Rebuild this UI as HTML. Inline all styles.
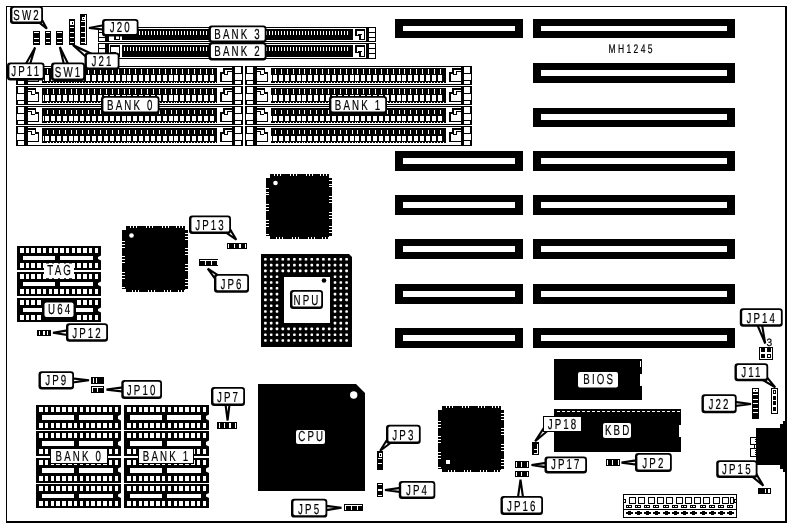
<!DOCTYPE html>
<html><head><meta charset="utf-8"><title>MH1245</title>
<style>
html,body{margin:0;padding:0;background:#fff;}
svg{display:block;font-family:"Liberation Sans",sans-serif;shape-rendering:crispEdges;}
svg .aa{shape-rendering:geometricPrecision;}
svg text{text-rendering:geometricPrecision;}
svg{will-change:transform;}
</style></head>
<body>
<svg width="791" height="527" viewBox="0 0 791 527">
<rect x="0" y="0" width="791" height="527" fill="#fff"/>

<rect x="6" y="6" width="781" height="1" fill="#000" />
<rect x="6" y="6" width="1" height="516" fill="#000" />
<rect x="785" y="6" width="2" height="517" fill="#000" />
<rect x="6" y="521" width="781" height="2" fill="#000" />
<rect x="533" y="19" width="202" height="19" fill="#000" />
<rect x="541" y="26" width="186" height="5" fill="#fff" />
<rect x="395" y="19" width="128" height="19" fill="#000" />
<rect x="403" y="26" width="112" height="5" fill="#fff" />
<rect x="533" y="63" width="202" height="20" fill="#000" />
<rect x="541" y="70" width="186" height="6" fill="#fff" />
<rect x="533" y="108" width="202" height="19" fill="#000" />
<rect x="541" y="114" width="186" height="6" fill="#fff" />
<rect x="533" y="151" width="202" height="20" fill="#000" />
<rect x="541" y="158" width="186" height="6" fill="#fff" />
<rect x="395" y="151" width="128" height="20" fill="#000" />
<rect x="403" y="158" width="112" height="6" fill="#fff" />
<rect x="533" y="195" width="202" height="20" fill="#000" />
<rect x="541" y="202" width="186" height="6" fill="#fff" />
<rect x="395" y="195" width="128" height="20" fill="#000" />
<rect x="403" y="202" width="112" height="6" fill="#fff" />
<rect x="533" y="239" width="202" height="20" fill="#000" />
<rect x="541" y="246" width="186" height="6" fill="#fff" />
<rect x="395" y="239" width="128" height="20" fill="#000" />
<rect x="403" y="246" width="112" height="6" fill="#fff" />
<rect x="533" y="284" width="202" height="20" fill="#000" />
<rect x="541" y="291" width="186" height="6" fill="#fff" />
<rect x="395" y="284" width="128" height="20" fill="#000" />
<rect x="403" y="291" width="112" height="6" fill="#fff" />
<rect x="533" y="328" width="202" height="20" fill="#000" />
<rect x="541" y="335" width="186" height="6" fill="#fff" />
<rect x="395" y="328" width="128" height="20" fill="#000" />
<rect x="403" y="335" width="112" height="6" fill="#fff" />
<rect x="16.5" y="66.5" width="226" height="18" fill="#fff" stroke="#000" stroke-width="1"/>
<rect x="17.5" y="66.5" width="7" height="7" fill="#fff" stroke="#000" stroke-width="1"/>
<rect x="16.5" y="73.5" width="8" height="7" fill="#fff" stroke="#000" stroke-width="1"/>
<rect x="17.5" y="80.5" width="7" height="4" fill="#fff" stroke="#000" stroke-width="1"/>
<rect x="24" y="66" width="3.5" height="19" fill="#000" />
<path d="M27 68 H36 V72 H39 V82 H27 Z" fill="#000" />
<path d="M27.5 69.5 H34.5 V73.5 H37.5 V80.8 H27.5 Z" fill="#fff" />
<rect x="27.5" y="71" width="4.5" height="1" fill="#000" />
<rect x="31" y="71" width="1" height="3.5" fill="#000" />
<rect x="31" y="73.5" width="4" height="1.2" fill="#000" />
<rect x="42" y="68" width="174.5" height="15" fill="#000" />
<rect x="43" y="75" width="1" height="6" fill="#fff" />
<rect x="45" y="75" width="4" height="6" fill="#fff" />
<rect x="46.5" y="69" width="1" height="5" fill="#fff" />
<rect x="49.5" y="82" width="1" height="1" fill="#fff" />
<rect x="46.5" y="82" width="1" height="1" fill="#fff" />
<rect x="51" y="75" width="4" height="6" fill="#fff" />
<rect x="52.5" y="69" width="1" height="5" fill="#fff" />
<rect x="55.5" y="82" width="1" height="1" fill="#fff" />
<rect x="52.5" y="82" width="1" height="1" fill="#fff" />
<rect x="57" y="75" width="4" height="6" fill="#fff" />
<rect x="58.5" y="69" width="1" height="5" fill="#fff" />
<rect x="61.5" y="82" width="1" height="1" fill="#fff" />
<rect x="58.5" y="82" width="1" height="1" fill="#fff" />
<rect x="63" y="75" width="4" height="6" fill="#fff" />
<rect x="64.5" y="69" width="1" height="5" fill="#fff" />
<rect x="67.5" y="82" width="1" height="1" fill="#fff" />
<rect x="64.5" y="82" width="1" height="1" fill="#fff" />
<rect x="69" y="75" width="4" height="6" fill="#fff" />
<rect x="70.5" y="69" width="1" height="5" fill="#fff" />
<rect x="73.5" y="82" width="1" height="1" fill="#fff" />
<rect x="70.5" y="82" width="1" height="1" fill="#fff" />
<rect x="74" y="75" width="4" height="6" fill="#fff" />
<rect x="75.5" y="69" width="1" height="5" fill="#fff" />
<rect x="78.5" y="82" width="1" height="1" fill="#fff" />
<rect x="75.5" y="82" width="1" height="1" fill="#fff" />
<rect x="80" y="75" width="4" height="6" fill="#fff" />
<rect x="81.5" y="69" width="1" height="5" fill="#fff" />
<rect x="84.5" y="82" width="1" height="1" fill="#fff" />
<rect x="81.5" y="82" width="1" height="1" fill="#fff" />
<rect x="86" y="75" width="4" height="6" fill="#fff" />
<rect x="87.5" y="69" width="1" height="5" fill="#fff" />
<rect x="90.5" y="82" width="1" height="1" fill="#fff" />
<rect x="87.5" y="82" width="1" height="1" fill="#fff" />
<rect x="92" y="75" width="4" height="6" fill="#fff" />
<rect x="93.5" y="69" width="1" height="5" fill="#fff" />
<rect x="96.5" y="82" width="1" height="1" fill="#fff" />
<rect x="93.5" y="82" width="1" height="1" fill="#fff" />
<rect x="98" y="75" width="4" height="6" fill="#fff" />
<rect x="99.5" y="69" width="1" height="5" fill="#fff" />
<rect x="102.5" y="82" width="1" height="1" fill="#fff" />
<rect x="99.5" y="82" width="1" height="1" fill="#fff" />
<rect x="104" y="75" width="4" height="6" fill="#fff" />
<rect x="105.5" y="69" width="1" height="5" fill="#fff" />
<rect x="108.5" y="82" width="1" height="1" fill="#fff" />
<rect x="105.5" y="82" width="1" height="1" fill="#fff" />
<rect x="110" y="75" width="4" height="6" fill="#fff" />
<rect x="111.5" y="69" width="1" height="5" fill="#fff" />
<rect x="114.5" y="82" width="1" height="1" fill="#fff" />
<rect x="111.5" y="82" width="1" height="1" fill="#fff" />
<rect x="116" y="75" width="4" height="6" fill="#fff" />
<rect x="117.5" y="69" width="1" height="5" fill="#fff" />
<rect x="120.5" y="82" width="1" height="1" fill="#fff" />
<rect x="117.5" y="82" width="1" height="1" fill="#fff" />
<rect x="122" y="75" width="4" height="6" fill="#fff" />
<rect x="123.5" y="69" width="1" height="5" fill="#fff" />
<rect x="126.5" y="82" width="1" height="1" fill="#fff" />
<rect x="123.5" y="82" width="1" height="1" fill="#fff" />
<rect x="127" y="75" width="4" height="6" fill="#fff" />
<rect x="128.5" y="69" width="1" height="5" fill="#fff" />
<rect x="131.5" y="82" width="1" height="1" fill="#fff" />
<rect x="128.5" y="82" width="1" height="1" fill="#fff" />
<rect x="133" y="75" width="4" height="6" fill="#fff" />
<rect x="134.5" y="69" width="1" height="5" fill="#fff" />
<rect x="137.5" y="82" width="1" height="1" fill="#fff" />
<rect x="134.5" y="82" width="1" height="1" fill="#fff" />
<rect x="139" y="75" width="4" height="6" fill="#fff" />
<rect x="140.5" y="69" width="1" height="5" fill="#fff" />
<rect x="143.5" y="82" width="1" height="1" fill="#fff" />
<rect x="140.5" y="82" width="1" height="1" fill="#fff" />
<rect x="145" y="75" width="4" height="6" fill="#fff" />
<rect x="146.5" y="69" width="1" height="5" fill="#fff" />
<rect x="149.5" y="82" width="1" height="1" fill="#fff" />
<rect x="146.5" y="82" width="1" height="1" fill="#fff" />
<rect x="151" y="75" width="4" height="6" fill="#fff" />
<rect x="152.5" y="69" width="1" height="5" fill="#fff" />
<rect x="155.5" y="82" width="1" height="1" fill="#fff" />
<rect x="152.5" y="82" width="1" height="1" fill="#fff" />
<rect x="157" y="75" width="4" height="6" fill="#fff" />
<rect x="158.5" y="69" width="1" height="5" fill="#fff" />
<rect x="161.5" y="82" width="1" height="1" fill="#fff" />
<rect x="158.5" y="82" width="1" height="1" fill="#fff" />
<rect x="163" y="75" width="4" height="6" fill="#fff" />
<rect x="164.5" y="69" width="1" height="5" fill="#fff" />
<rect x="167.5" y="82" width="1" height="1" fill="#fff" />
<rect x="164.5" y="82" width="1" height="1" fill="#fff" />
<rect x="169" y="75" width="4" height="6" fill="#fff" />
<rect x="170.5" y="69" width="1" height="5" fill="#fff" />
<rect x="173.5" y="82" width="1" height="1" fill="#fff" />
<rect x="170.5" y="82" width="1" height="1" fill="#fff" />
<rect x="174" y="75" width="4" height="6" fill="#fff" />
<rect x="175.5" y="69" width="1" height="5" fill="#fff" />
<rect x="178.5" y="82" width="1" height="1" fill="#fff" />
<rect x="175.5" y="82" width="1" height="1" fill="#fff" />
<rect x="180" y="75" width="4" height="6" fill="#fff" />
<rect x="181.5" y="69" width="1" height="5" fill="#fff" />
<rect x="184.5" y="82" width="1" height="1" fill="#fff" />
<rect x="181.5" y="82" width="1" height="1" fill="#fff" />
<rect x="186" y="75" width="4" height="6" fill="#fff" />
<rect x="187.5" y="69" width="1" height="5" fill="#fff" />
<rect x="190.5" y="82" width="1" height="1" fill="#fff" />
<rect x="187.5" y="82" width="1" height="1" fill="#fff" />
<rect x="192" y="75" width="4" height="6" fill="#fff" />
<rect x="193.5" y="69" width="1" height="5" fill="#fff" />
<rect x="196.5" y="82" width="1" height="1" fill="#fff" />
<rect x="193.5" y="82" width="1" height="1" fill="#fff" />
<rect x="198" y="75" width="4" height="6" fill="#fff" />
<rect x="199.5" y="69" width="1" height="5" fill="#fff" />
<rect x="202.5" y="82" width="1" height="1" fill="#fff" />
<rect x="199.5" y="82" width="1" height="1" fill="#fff" />
<rect x="204" y="75" width="4" height="6" fill="#fff" />
<rect x="205.5" y="69" width="1" height="5" fill="#fff" />
<rect x="208.5" y="82" width="1" height="1" fill="#fff" />
<rect x="205.5" y="82" width="1" height="1" fill="#fff" />
<rect x="210" y="75" width="4" height="6" fill="#fff" />
<rect x="211.5" y="69" width="1" height="5" fill="#fff" />
<rect x="214.5" y="82" width="1" height="1" fill="#fff" />
<rect x="211.5" y="82" width="1" height="1" fill="#fff" />
<path d="M232 68 H223 V72 H220 V82 H232 Z" fill="#000" />
<path d="M231.5 69.5 H224.5 V73.5 H221.5 V80.8 H231.5 Z" fill="#fff" />
<rect x="227" y="71" width="4.5" height="1" fill="#000" />
<rect x="227" y="71" width="1" height="3.5" fill="#000" />
<rect x="224" y="73.5" width="4" height="1.2" fill="#000" />
<rect x="231.5" y="66" width="3.5" height="19" fill="#000" />
<rect x="234.5" y="66.5" width="7" height="7" fill="#fff" stroke="#000" stroke-width="1"/>
<rect x="234.5" y="73.5" width="8" height="7" fill="#fff" stroke="#000" stroke-width="1"/>
<rect x="234.5" y="80.5" width="7" height="4" fill="#fff" stroke="#000" stroke-width="1"/>
<rect x="245.5" y="66.5" width="226" height="18" fill="#fff" stroke="#000" stroke-width="1"/>
<rect x="246.5" y="66.5" width="7" height="7" fill="#fff" stroke="#000" stroke-width="1"/>
<rect x="245.5" y="73.5" width="8" height="7" fill="#fff" stroke="#000" stroke-width="1"/>
<rect x="246.5" y="80.5" width="7" height="4" fill="#fff" stroke="#000" stroke-width="1"/>
<rect x="253" y="66" width="3.5" height="19" fill="#000" />
<path d="M256 68 H265 V72 H268 V82 H256 Z" fill="#000" />
<path d="M256.5 69.5 H263.5 V73.5 H266.5 V80.8 H256.5 Z" fill="#fff" />
<rect x="256.5" y="71" width="4.5" height="1" fill="#000" />
<rect x="260" y="71" width="1" height="3.5" fill="#000" />
<rect x="260" y="73.5" width="4" height="1.2" fill="#000" />
<rect x="271" y="68" width="174.5" height="15" fill="#000" />
<rect x="271" y="75" width="1" height="6" fill="#fff" />
<rect x="273" y="75" width="4" height="6" fill="#fff" />
<rect x="274.5" y="69" width="1" height="5" fill="#fff" />
<rect x="277.5" y="82" width="1" height="1" fill="#fff" />
<rect x="274.5" y="82" width="1" height="1" fill="#fff" />
<rect x="279" y="75" width="4" height="6" fill="#fff" />
<rect x="280.5" y="69" width="1" height="5" fill="#fff" />
<rect x="283.5" y="82" width="1" height="1" fill="#fff" />
<rect x="280.5" y="82" width="1" height="1" fill="#fff" />
<rect x="285" y="75" width="4" height="6" fill="#fff" />
<rect x="286.5" y="69" width="1" height="5" fill="#fff" />
<rect x="289.5" y="82" width="1" height="1" fill="#fff" />
<rect x="286.5" y="82" width="1" height="1" fill="#fff" />
<rect x="291" y="75" width="4" height="6" fill="#fff" />
<rect x="292.5" y="69" width="1" height="5" fill="#fff" />
<rect x="295.5" y="82" width="1" height="1" fill="#fff" />
<rect x="292.5" y="82" width="1" height="1" fill="#fff" />
<rect x="297" y="75" width="4" height="6" fill="#fff" />
<rect x="298.5" y="69" width="1" height="5" fill="#fff" />
<rect x="301.5" y="82" width="1" height="1" fill="#fff" />
<rect x="298.5" y="82" width="1" height="1" fill="#fff" />
<rect x="302" y="75" width="4" height="6" fill="#fff" />
<rect x="303.5" y="69" width="1" height="5" fill="#fff" />
<rect x="306.5" y="82" width="1" height="1" fill="#fff" />
<rect x="303.5" y="82" width="1" height="1" fill="#fff" />
<rect x="308" y="75" width="4" height="6" fill="#fff" />
<rect x="309.5" y="69" width="1" height="5" fill="#fff" />
<rect x="312.5" y="82" width="1" height="1" fill="#fff" />
<rect x="309.5" y="82" width="1" height="1" fill="#fff" />
<rect x="314" y="75" width="4" height="6" fill="#fff" />
<rect x="315.5" y="69" width="1" height="5" fill="#fff" />
<rect x="318.5" y="82" width="1" height="1" fill="#fff" />
<rect x="315.5" y="82" width="1" height="1" fill="#fff" />
<rect x="320" y="75" width="4" height="6" fill="#fff" />
<rect x="321.5" y="69" width="1" height="5" fill="#fff" />
<rect x="324.5" y="82" width="1" height="1" fill="#fff" />
<rect x="321.5" y="82" width="1" height="1" fill="#fff" />
<rect x="326" y="75" width="4" height="6" fill="#fff" />
<rect x="327.5" y="69" width="1" height="5" fill="#fff" />
<rect x="330.5" y="82" width="1" height="1" fill="#fff" />
<rect x="327.5" y="82" width="1" height="1" fill="#fff" />
<rect x="332" y="75" width="4" height="6" fill="#fff" />
<rect x="333.5" y="69" width="1" height="5" fill="#fff" />
<rect x="336.5" y="82" width="1" height="1" fill="#fff" />
<rect x="333.5" y="82" width="1" height="1" fill="#fff" />
<rect x="338" y="75" width="4" height="6" fill="#fff" />
<rect x="339.5" y="69" width="1" height="5" fill="#fff" />
<rect x="342.5" y="82" width="1" height="1" fill="#fff" />
<rect x="339.5" y="82" width="1" height="1" fill="#fff" />
<rect x="344" y="75" width="4" height="6" fill="#fff" />
<rect x="345.5" y="69" width="1" height="5" fill="#fff" />
<rect x="348.5" y="82" width="1" height="1" fill="#fff" />
<rect x="345.5" y="82" width="1" height="1" fill="#fff" />
<rect x="350" y="75" width="4" height="6" fill="#fff" />
<rect x="351.5" y="69" width="1" height="5" fill="#fff" />
<rect x="354.5" y="82" width="1" height="1" fill="#fff" />
<rect x="351.5" y="82" width="1" height="1" fill="#fff" />
<rect x="355" y="75" width="4" height="6" fill="#fff" />
<rect x="356.5" y="69" width="1" height="5" fill="#fff" />
<rect x="359.5" y="82" width="1" height="1" fill="#fff" />
<rect x="356.5" y="82" width="1" height="1" fill="#fff" />
<rect x="361" y="75" width="4" height="6" fill="#fff" />
<rect x="362.5" y="69" width="1" height="5" fill="#fff" />
<rect x="365.5" y="82" width="1" height="1" fill="#fff" />
<rect x="362.5" y="82" width="1" height="1" fill="#fff" />
<rect x="367" y="75" width="4" height="6" fill="#fff" />
<rect x="368.5" y="69" width="1" height="5" fill="#fff" />
<rect x="371.5" y="82" width="1" height="1" fill="#fff" />
<rect x="368.5" y="82" width="1" height="1" fill="#fff" />
<rect x="373" y="75" width="4" height="6" fill="#fff" />
<rect x="374.5" y="69" width="1" height="5" fill="#fff" />
<rect x="377.5" y="82" width="1" height="1" fill="#fff" />
<rect x="374.5" y="82" width="1" height="1" fill="#fff" />
<rect x="379" y="75" width="4" height="6" fill="#fff" />
<rect x="380.5" y="69" width="1" height="5" fill="#fff" />
<rect x="383.5" y="82" width="1" height="1" fill="#fff" />
<rect x="380.5" y="82" width="1" height="1" fill="#fff" />
<rect x="385" y="75" width="4" height="6" fill="#fff" />
<rect x="386.5" y="69" width="1" height="5" fill="#fff" />
<rect x="389.5" y="82" width="1" height="1" fill="#fff" />
<rect x="386.5" y="82" width="1" height="1" fill="#fff" />
<rect x="391" y="75" width="4" height="6" fill="#fff" />
<rect x="392.5" y="69" width="1" height="5" fill="#fff" />
<rect x="395.5" y="82" width="1" height="1" fill="#fff" />
<rect x="392.5" y="82" width="1" height="1" fill="#fff" />
<rect x="397" y="75" width="4" height="6" fill="#fff" />
<rect x="398.5" y="69" width="1" height="5" fill="#fff" />
<rect x="401.5" y="82" width="1" height="1" fill="#fff" />
<rect x="398.5" y="82" width="1" height="1" fill="#fff" />
<rect x="402" y="75" width="4" height="6" fill="#fff" />
<rect x="403.5" y="69" width="1" height="5" fill="#fff" />
<rect x="406.5" y="82" width="1" height="1" fill="#fff" />
<rect x="403.5" y="82" width="1" height="1" fill="#fff" />
<rect x="408" y="75" width="4" height="6" fill="#fff" />
<rect x="409.5" y="69" width="1" height="5" fill="#fff" />
<rect x="412.5" y="82" width="1" height="1" fill="#fff" />
<rect x="409.5" y="82" width="1" height="1" fill="#fff" />
<rect x="414" y="75" width="4" height="6" fill="#fff" />
<rect x="415.5" y="69" width="1" height="5" fill="#fff" />
<rect x="418.5" y="82" width="1" height="1" fill="#fff" />
<rect x="415.5" y="82" width="1" height="1" fill="#fff" />
<rect x="420" y="75" width="4" height="6" fill="#fff" />
<rect x="421.5" y="69" width="1" height="5" fill="#fff" />
<rect x="424.5" y="82" width="1" height="1" fill="#fff" />
<rect x="421.5" y="82" width="1" height="1" fill="#fff" />
<rect x="426" y="75" width="4" height="6" fill="#fff" />
<rect x="427.5" y="69" width="1" height="5" fill="#fff" />
<rect x="430.5" y="82" width="1" height="1" fill="#fff" />
<rect x="427.5" y="82" width="1" height="1" fill="#fff" />
<rect x="432" y="75" width="4" height="6" fill="#fff" />
<rect x="433.5" y="69" width="1" height="5" fill="#fff" />
<rect x="436.5" y="82" width="1" height="1" fill="#fff" />
<rect x="433.5" y="82" width="1" height="1" fill="#fff" />
<rect x="438" y="75" width="4" height="6" fill="#fff" />
<rect x="439.5" y="69" width="1" height="5" fill="#fff" />
<rect x="442.5" y="82" width="1" height="1" fill="#fff" />
<rect x="439.5" y="82" width="1" height="1" fill="#fff" />
<path d="M461 68 H452 V72 H449 V82 H461 Z" fill="#000" />
<path d="M460.5 69.5 H453.5 V73.5 H450.5 V80.8 H460.5 Z" fill="#fff" />
<rect x="456" y="71" width="4.5" height="1" fill="#000" />
<rect x="456" y="71" width="1" height="3.5" fill="#000" />
<rect x="453" y="73.5" width="4" height="1.2" fill="#000" />
<rect x="460.5" y="66" width="3.5" height="19" fill="#000" />
<rect x="463.5" y="66.5" width="7" height="7" fill="#fff" stroke="#000" stroke-width="1"/>
<rect x="463.5" y="73.5" width="8" height="7" fill="#fff" stroke="#000" stroke-width="1"/>
<rect x="463.5" y="80.5" width="7" height="4" fill="#fff" stroke="#000" stroke-width="1"/>
<rect x="16.5" y="86.5" width="226" height="18" fill="#fff" stroke="#000" stroke-width="1"/>
<rect x="17.5" y="86.5" width="7" height="7" fill="#fff" stroke="#000" stroke-width="1"/>
<rect x="16.5" y="93.5" width="8" height="7" fill="#fff" stroke="#000" stroke-width="1"/>
<rect x="17.5" y="100.5" width="7" height="4" fill="#fff" stroke="#000" stroke-width="1"/>
<rect x="24" y="86" width="3.5" height="19" fill="#000" />
<path d="M27 88 H36 V92 H39 V102 H27 Z" fill="#000" />
<path d="M27.5 89.5 H34.5 V93.5 H37.5 V100.8 H27.5 Z" fill="#fff" />
<rect x="27.5" y="91" width="4.5" height="1" fill="#000" />
<rect x="31" y="91" width="1" height="3.5" fill="#000" />
<rect x="31" y="93.5" width="4" height="1.2" fill="#000" />
<rect x="42" y="88" width="174.5" height="15" fill="#000" />
<rect x="43" y="95" width="1" height="6" fill="#fff" />
<rect x="45" y="95" width="4" height="6" fill="#fff" />
<rect x="46.5" y="89" width="1" height="5" fill="#fff" />
<rect x="49.5" y="102" width="1" height="1" fill="#fff" />
<rect x="46.5" y="102" width="1" height="1" fill="#fff" />
<rect x="51" y="95" width="4" height="6" fill="#fff" />
<rect x="52.5" y="89" width="1" height="5" fill="#fff" />
<rect x="55.5" y="102" width="1" height="1" fill="#fff" />
<rect x="52.5" y="102" width="1" height="1" fill="#fff" />
<rect x="57" y="95" width="4" height="6" fill="#fff" />
<rect x="58.5" y="89" width="1" height="5" fill="#fff" />
<rect x="61.5" y="102" width="1" height="1" fill="#fff" />
<rect x="58.5" y="102" width="1" height="1" fill="#fff" />
<rect x="63" y="95" width="4" height="6" fill="#fff" />
<rect x="64.5" y="89" width="1" height="5" fill="#fff" />
<rect x="67.5" y="102" width="1" height="1" fill="#fff" />
<rect x="64.5" y="102" width="1" height="1" fill="#fff" />
<rect x="69" y="95" width="4" height="6" fill="#fff" />
<rect x="70.5" y="89" width="1" height="5" fill="#fff" />
<rect x="73.5" y="102" width="1" height="1" fill="#fff" />
<rect x="70.5" y="102" width="1" height="1" fill="#fff" />
<rect x="74" y="95" width="4" height="6" fill="#fff" />
<rect x="75.5" y="89" width="1" height="5" fill="#fff" />
<rect x="78.5" y="102" width="1" height="1" fill="#fff" />
<rect x="75.5" y="102" width="1" height="1" fill="#fff" />
<rect x="80" y="95" width="4" height="6" fill="#fff" />
<rect x="81.5" y="89" width="1" height="5" fill="#fff" />
<rect x="84.5" y="102" width="1" height="1" fill="#fff" />
<rect x="81.5" y="102" width="1" height="1" fill="#fff" />
<rect x="86" y="95" width="4" height="6" fill="#fff" />
<rect x="87.5" y="89" width="1" height="5" fill="#fff" />
<rect x="90.5" y="102" width="1" height="1" fill="#fff" />
<rect x="87.5" y="102" width="1" height="1" fill="#fff" />
<rect x="92" y="95" width="4" height="6" fill="#fff" />
<rect x="93.5" y="89" width="1" height="5" fill="#fff" />
<rect x="96.5" y="102" width="1" height="1" fill="#fff" />
<rect x="93.5" y="102" width="1" height="1" fill="#fff" />
<rect x="98" y="95" width="4" height="6" fill="#fff" />
<rect x="99.5" y="89" width="1" height="5" fill="#fff" />
<rect x="102.5" y="102" width="1" height="1" fill="#fff" />
<rect x="99.5" y="102" width="1" height="1" fill="#fff" />
<rect x="104" y="95" width="4" height="6" fill="#fff" />
<rect x="105.5" y="89" width="1" height="5" fill="#fff" />
<rect x="108.5" y="102" width="1" height="1" fill="#fff" />
<rect x="105.5" y="102" width="1" height="1" fill="#fff" />
<rect x="110" y="95" width="4" height="6" fill="#fff" />
<rect x="111.5" y="89" width="1" height="5" fill="#fff" />
<rect x="114.5" y="102" width="1" height="1" fill="#fff" />
<rect x="111.5" y="102" width="1" height="1" fill="#fff" />
<rect x="116" y="95" width="4" height="6" fill="#fff" />
<rect x="117.5" y="89" width="1" height="5" fill="#fff" />
<rect x="120.5" y="102" width="1" height="1" fill="#fff" />
<rect x="117.5" y="102" width="1" height="1" fill="#fff" />
<rect x="122" y="95" width="4" height="6" fill="#fff" />
<rect x="123.5" y="89" width="1" height="5" fill="#fff" />
<rect x="126.5" y="102" width="1" height="1" fill="#fff" />
<rect x="123.5" y="102" width="1" height="1" fill="#fff" />
<rect x="127" y="95" width="4" height="6" fill="#fff" />
<rect x="128.5" y="89" width="1" height="5" fill="#fff" />
<rect x="131.5" y="102" width="1" height="1" fill="#fff" />
<rect x="128.5" y="102" width="1" height="1" fill="#fff" />
<rect x="133" y="95" width="4" height="6" fill="#fff" />
<rect x="134.5" y="89" width="1" height="5" fill="#fff" />
<rect x="137.5" y="102" width="1" height="1" fill="#fff" />
<rect x="134.5" y="102" width="1" height="1" fill="#fff" />
<rect x="139" y="95" width="4" height="6" fill="#fff" />
<rect x="140.5" y="89" width="1" height="5" fill="#fff" />
<rect x="143.5" y="102" width="1" height="1" fill="#fff" />
<rect x="140.5" y="102" width="1" height="1" fill="#fff" />
<rect x="145" y="95" width="4" height="6" fill="#fff" />
<rect x="146.5" y="89" width="1" height="5" fill="#fff" />
<rect x="149.5" y="102" width="1" height="1" fill="#fff" />
<rect x="146.5" y="102" width="1" height="1" fill="#fff" />
<rect x="151" y="95" width="4" height="6" fill="#fff" />
<rect x="152.5" y="89" width="1" height="5" fill="#fff" />
<rect x="155.5" y="102" width="1" height="1" fill="#fff" />
<rect x="152.5" y="102" width="1" height="1" fill="#fff" />
<rect x="157" y="95" width="4" height="6" fill="#fff" />
<rect x="158.5" y="89" width="1" height="5" fill="#fff" />
<rect x="161.5" y="102" width="1" height="1" fill="#fff" />
<rect x="158.5" y="102" width="1" height="1" fill="#fff" />
<rect x="163" y="95" width="4" height="6" fill="#fff" />
<rect x="164.5" y="89" width="1" height="5" fill="#fff" />
<rect x="167.5" y="102" width="1" height="1" fill="#fff" />
<rect x="164.5" y="102" width="1" height="1" fill="#fff" />
<rect x="169" y="95" width="4" height="6" fill="#fff" />
<rect x="170.5" y="89" width="1" height="5" fill="#fff" />
<rect x="173.5" y="102" width="1" height="1" fill="#fff" />
<rect x="170.5" y="102" width="1" height="1" fill="#fff" />
<rect x="174" y="95" width="4" height="6" fill="#fff" />
<rect x="175.5" y="89" width="1" height="5" fill="#fff" />
<rect x="178.5" y="102" width="1" height="1" fill="#fff" />
<rect x="175.5" y="102" width="1" height="1" fill="#fff" />
<rect x="180" y="95" width="4" height="6" fill="#fff" />
<rect x="181.5" y="89" width="1" height="5" fill="#fff" />
<rect x="184.5" y="102" width="1" height="1" fill="#fff" />
<rect x="181.5" y="102" width="1" height="1" fill="#fff" />
<rect x="186" y="95" width="4" height="6" fill="#fff" />
<rect x="187.5" y="89" width="1" height="5" fill="#fff" />
<rect x="190.5" y="102" width="1" height="1" fill="#fff" />
<rect x="187.5" y="102" width="1" height="1" fill="#fff" />
<rect x="192" y="95" width="4" height="6" fill="#fff" />
<rect x="193.5" y="89" width="1" height="5" fill="#fff" />
<rect x="196.5" y="102" width="1" height="1" fill="#fff" />
<rect x="193.5" y="102" width="1" height="1" fill="#fff" />
<rect x="198" y="95" width="4" height="6" fill="#fff" />
<rect x="199.5" y="89" width="1" height="5" fill="#fff" />
<rect x="202.5" y="102" width="1" height="1" fill="#fff" />
<rect x="199.5" y="102" width="1" height="1" fill="#fff" />
<rect x="204" y="95" width="4" height="6" fill="#fff" />
<rect x="205.5" y="89" width="1" height="5" fill="#fff" />
<rect x="208.5" y="102" width="1" height="1" fill="#fff" />
<rect x="205.5" y="102" width="1" height="1" fill="#fff" />
<rect x="210" y="95" width="4" height="6" fill="#fff" />
<rect x="211.5" y="89" width="1" height="5" fill="#fff" />
<rect x="214.5" y="102" width="1" height="1" fill="#fff" />
<rect x="211.5" y="102" width="1" height="1" fill="#fff" />
<path d="M232 88 H223 V92 H220 V102 H232 Z" fill="#000" />
<path d="M231.5 89.5 H224.5 V93.5 H221.5 V100.8 H231.5 Z" fill="#fff" />
<rect x="227" y="91" width="4.5" height="1" fill="#000" />
<rect x="227" y="91" width="1" height="3.5" fill="#000" />
<rect x="224" y="93.5" width="4" height="1.2" fill="#000" />
<rect x="231.5" y="86" width="3.5" height="19" fill="#000" />
<rect x="234.5" y="86.5" width="7" height="7" fill="#fff" stroke="#000" stroke-width="1"/>
<rect x="234.5" y="93.5" width="8" height="7" fill="#fff" stroke="#000" stroke-width="1"/>
<rect x="234.5" y="100.5" width="7" height="4" fill="#fff" stroke="#000" stroke-width="1"/>
<rect x="245.5" y="86.5" width="226" height="18" fill="#fff" stroke="#000" stroke-width="1"/>
<rect x="246.5" y="86.5" width="7" height="7" fill="#fff" stroke="#000" stroke-width="1"/>
<rect x="245.5" y="93.5" width="8" height="7" fill="#fff" stroke="#000" stroke-width="1"/>
<rect x="246.5" y="100.5" width="7" height="4" fill="#fff" stroke="#000" stroke-width="1"/>
<rect x="253" y="86" width="3.5" height="19" fill="#000" />
<path d="M256 88 H265 V92 H268 V102 H256 Z" fill="#000" />
<path d="M256.5 89.5 H263.5 V93.5 H266.5 V100.8 H256.5 Z" fill="#fff" />
<rect x="256.5" y="91" width="4.5" height="1" fill="#000" />
<rect x="260" y="91" width="1" height="3.5" fill="#000" />
<rect x="260" y="93.5" width="4" height="1.2" fill="#000" />
<rect x="271" y="88" width="174.5" height="15" fill="#000" />
<rect x="271" y="95" width="1" height="6" fill="#fff" />
<rect x="273" y="95" width="4" height="6" fill="#fff" />
<rect x="274.5" y="89" width="1" height="5" fill="#fff" />
<rect x="277.5" y="102" width="1" height="1" fill="#fff" />
<rect x="274.5" y="102" width="1" height="1" fill="#fff" />
<rect x="279" y="95" width="4" height="6" fill="#fff" />
<rect x="280.5" y="89" width="1" height="5" fill="#fff" />
<rect x="283.5" y="102" width="1" height="1" fill="#fff" />
<rect x="280.5" y="102" width="1" height="1" fill="#fff" />
<rect x="285" y="95" width="4" height="6" fill="#fff" />
<rect x="286.5" y="89" width="1" height="5" fill="#fff" />
<rect x="289.5" y="102" width="1" height="1" fill="#fff" />
<rect x="286.5" y="102" width="1" height="1" fill="#fff" />
<rect x="291" y="95" width="4" height="6" fill="#fff" />
<rect x="292.5" y="89" width="1" height="5" fill="#fff" />
<rect x="295.5" y="102" width="1" height="1" fill="#fff" />
<rect x="292.5" y="102" width="1" height="1" fill="#fff" />
<rect x="297" y="95" width="4" height="6" fill="#fff" />
<rect x="298.5" y="89" width="1" height="5" fill="#fff" />
<rect x="301.5" y="102" width="1" height="1" fill="#fff" />
<rect x="298.5" y="102" width="1" height="1" fill="#fff" />
<rect x="302" y="95" width="4" height="6" fill="#fff" />
<rect x="303.5" y="89" width="1" height="5" fill="#fff" />
<rect x="306.5" y="102" width="1" height="1" fill="#fff" />
<rect x="303.5" y="102" width="1" height="1" fill="#fff" />
<rect x="308" y="95" width="4" height="6" fill="#fff" />
<rect x="309.5" y="89" width="1" height="5" fill="#fff" />
<rect x="312.5" y="102" width="1" height="1" fill="#fff" />
<rect x="309.5" y="102" width="1" height="1" fill="#fff" />
<rect x="314" y="95" width="4" height="6" fill="#fff" />
<rect x="315.5" y="89" width="1" height="5" fill="#fff" />
<rect x="318.5" y="102" width="1" height="1" fill="#fff" />
<rect x="315.5" y="102" width="1" height="1" fill="#fff" />
<rect x="320" y="95" width="4" height="6" fill="#fff" />
<rect x="321.5" y="89" width="1" height="5" fill="#fff" />
<rect x="324.5" y="102" width="1" height="1" fill="#fff" />
<rect x="321.5" y="102" width="1" height="1" fill="#fff" />
<rect x="326" y="95" width="4" height="6" fill="#fff" />
<rect x="327.5" y="89" width="1" height="5" fill="#fff" />
<rect x="330.5" y="102" width="1" height="1" fill="#fff" />
<rect x="327.5" y="102" width="1" height="1" fill="#fff" />
<rect x="332" y="95" width="4" height="6" fill="#fff" />
<rect x="333.5" y="89" width="1" height="5" fill="#fff" />
<rect x="336.5" y="102" width="1" height="1" fill="#fff" />
<rect x="333.5" y="102" width="1" height="1" fill="#fff" />
<rect x="338" y="95" width="4" height="6" fill="#fff" />
<rect x="339.5" y="89" width="1" height="5" fill="#fff" />
<rect x="342.5" y="102" width="1" height="1" fill="#fff" />
<rect x="339.5" y="102" width="1" height="1" fill="#fff" />
<rect x="344" y="95" width="4" height="6" fill="#fff" />
<rect x="345.5" y="89" width="1" height="5" fill="#fff" />
<rect x="348.5" y="102" width="1" height="1" fill="#fff" />
<rect x="345.5" y="102" width="1" height="1" fill="#fff" />
<rect x="350" y="95" width="4" height="6" fill="#fff" />
<rect x="351.5" y="89" width="1" height="5" fill="#fff" />
<rect x="354.5" y="102" width="1" height="1" fill="#fff" />
<rect x="351.5" y="102" width="1" height="1" fill="#fff" />
<rect x="355" y="95" width="4" height="6" fill="#fff" />
<rect x="356.5" y="89" width="1" height="5" fill="#fff" />
<rect x="359.5" y="102" width="1" height="1" fill="#fff" />
<rect x="356.5" y="102" width="1" height="1" fill="#fff" />
<rect x="361" y="95" width="4" height="6" fill="#fff" />
<rect x="362.5" y="89" width="1" height="5" fill="#fff" />
<rect x="365.5" y="102" width="1" height="1" fill="#fff" />
<rect x="362.5" y="102" width="1" height="1" fill="#fff" />
<rect x="367" y="95" width="4" height="6" fill="#fff" />
<rect x="368.5" y="89" width="1" height="5" fill="#fff" />
<rect x="371.5" y="102" width="1" height="1" fill="#fff" />
<rect x="368.5" y="102" width="1" height="1" fill="#fff" />
<rect x="373" y="95" width="4" height="6" fill="#fff" />
<rect x="374.5" y="89" width="1" height="5" fill="#fff" />
<rect x="377.5" y="102" width="1" height="1" fill="#fff" />
<rect x="374.5" y="102" width="1" height="1" fill="#fff" />
<rect x="379" y="95" width="4" height="6" fill="#fff" />
<rect x="380.5" y="89" width="1" height="5" fill="#fff" />
<rect x="383.5" y="102" width="1" height="1" fill="#fff" />
<rect x="380.5" y="102" width="1" height="1" fill="#fff" />
<rect x="385" y="95" width="4" height="6" fill="#fff" />
<rect x="386.5" y="89" width="1" height="5" fill="#fff" />
<rect x="389.5" y="102" width="1" height="1" fill="#fff" />
<rect x="386.5" y="102" width="1" height="1" fill="#fff" />
<rect x="391" y="95" width="4" height="6" fill="#fff" />
<rect x="392.5" y="89" width="1" height="5" fill="#fff" />
<rect x="395.5" y="102" width="1" height="1" fill="#fff" />
<rect x="392.5" y="102" width="1" height="1" fill="#fff" />
<rect x="397" y="95" width="4" height="6" fill="#fff" />
<rect x="398.5" y="89" width="1" height="5" fill="#fff" />
<rect x="401.5" y="102" width="1" height="1" fill="#fff" />
<rect x="398.5" y="102" width="1" height="1" fill="#fff" />
<rect x="402" y="95" width="4" height="6" fill="#fff" />
<rect x="403.5" y="89" width="1" height="5" fill="#fff" />
<rect x="406.5" y="102" width="1" height="1" fill="#fff" />
<rect x="403.5" y="102" width="1" height="1" fill="#fff" />
<rect x="408" y="95" width="4" height="6" fill="#fff" />
<rect x="409.5" y="89" width="1" height="5" fill="#fff" />
<rect x="412.5" y="102" width="1" height="1" fill="#fff" />
<rect x="409.5" y="102" width="1" height="1" fill="#fff" />
<rect x="414" y="95" width="4" height="6" fill="#fff" />
<rect x="415.5" y="89" width="1" height="5" fill="#fff" />
<rect x="418.5" y="102" width="1" height="1" fill="#fff" />
<rect x="415.5" y="102" width="1" height="1" fill="#fff" />
<rect x="420" y="95" width="4" height="6" fill="#fff" />
<rect x="421.5" y="89" width="1" height="5" fill="#fff" />
<rect x="424.5" y="102" width="1" height="1" fill="#fff" />
<rect x="421.5" y="102" width="1" height="1" fill="#fff" />
<rect x="426" y="95" width="4" height="6" fill="#fff" />
<rect x="427.5" y="89" width="1" height="5" fill="#fff" />
<rect x="430.5" y="102" width="1" height="1" fill="#fff" />
<rect x="427.5" y="102" width="1" height="1" fill="#fff" />
<rect x="432" y="95" width="4" height="6" fill="#fff" />
<rect x="433.5" y="89" width="1" height="5" fill="#fff" />
<rect x="436.5" y="102" width="1" height="1" fill="#fff" />
<rect x="433.5" y="102" width="1" height="1" fill="#fff" />
<rect x="438" y="95" width="4" height="6" fill="#fff" />
<rect x="439.5" y="89" width="1" height="5" fill="#fff" />
<rect x="442.5" y="102" width="1" height="1" fill="#fff" />
<rect x="439.5" y="102" width="1" height="1" fill="#fff" />
<path d="M461 88 H452 V92 H449 V102 H461 Z" fill="#000" />
<path d="M460.5 89.5 H453.5 V93.5 H450.5 V100.8 H460.5 Z" fill="#fff" />
<rect x="456" y="91" width="4.5" height="1" fill="#000" />
<rect x="456" y="91" width="1" height="3.5" fill="#000" />
<rect x="453" y="93.5" width="4" height="1.2" fill="#000" />
<rect x="460.5" y="86" width="3.5" height="19" fill="#000" />
<rect x="463.5" y="86.5" width="7" height="7" fill="#fff" stroke="#000" stroke-width="1"/>
<rect x="463.5" y="93.5" width="8" height="7" fill="#fff" stroke="#000" stroke-width="1"/>
<rect x="463.5" y="100.5" width="7" height="4" fill="#fff" stroke="#000" stroke-width="1"/>
<rect x="16.5" y="106.5" width="226" height="18" fill="#fff" stroke="#000" stroke-width="1"/>
<rect x="17.5" y="106.5" width="7" height="7" fill="#fff" stroke="#000" stroke-width="1"/>
<rect x="16.5" y="113.5" width="8" height="7" fill="#fff" stroke="#000" stroke-width="1"/>
<rect x="17.5" y="120.5" width="7" height="4" fill="#fff" stroke="#000" stroke-width="1"/>
<rect x="24" y="106" width="3.5" height="19" fill="#000" />
<path d="M27 108 H36 V112 H39 V122 H27 Z" fill="#000" />
<path d="M27.5 109.5 H34.5 V113.5 H37.5 V120.8 H27.5 Z" fill="#fff" />
<rect x="27.5" y="111" width="4.5" height="1" fill="#000" />
<rect x="31" y="111" width="1" height="3.5" fill="#000" />
<rect x="31" y="113.5" width="4" height="1.2" fill="#000" />
<rect x="42" y="108" width="174.5" height="15" fill="#000" />
<rect x="43" y="116" width="1" height="5" fill="#fff" />
<rect x="45" y="116" width="4" height="5" fill="#fff" />
<rect x="46.5" y="110" width="1" height="4" fill="#fff" />
<rect x="49.5" y="122" width="1" height="1" fill="#fff" />
<rect x="46.5" y="122" width="1" height="1" fill="#fff" />
<rect x="51" y="116" width="4" height="5" fill="#fff" />
<rect x="52.5" y="110" width="1" height="4" fill="#fff" />
<rect x="55.5" y="122" width="1" height="1" fill="#fff" />
<rect x="52.5" y="122" width="1" height="1" fill="#fff" />
<rect x="57" y="116" width="4" height="5" fill="#fff" />
<rect x="58.5" y="110" width="1" height="4" fill="#fff" />
<rect x="61.5" y="122" width="1" height="1" fill="#fff" />
<rect x="58.5" y="122" width="1" height="1" fill="#fff" />
<rect x="63" y="116" width="4" height="5" fill="#fff" />
<rect x="64.5" y="110" width="1" height="4" fill="#fff" />
<rect x="67.5" y="122" width="1" height="1" fill="#fff" />
<rect x="64.5" y="122" width="1" height="1" fill="#fff" />
<rect x="69" y="116" width="4" height="5" fill="#fff" />
<rect x="70.5" y="110" width="1" height="4" fill="#fff" />
<rect x="73.5" y="122" width="1" height="1" fill="#fff" />
<rect x="70.5" y="122" width="1" height="1" fill="#fff" />
<rect x="74" y="116" width="4" height="5" fill="#fff" />
<rect x="75.5" y="110" width="1" height="4" fill="#fff" />
<rect x="78.5" y="122" width="1" height="1" fill="#fff" />
<rect x="75.5" y="122" width="1" height="1" fill="#fff" />
<rect x="80" y="116" width="4" height="5" fill="#fff" />
<rect x="81.5" y="110" width="1" height="4" fill="#fff" />
<rect x="84.5" y="122" width="1" height="1" fill="#fff" />
<rect x="81.5" y="122" width="1" height="1" fill="#fff" />
<rect x="86" y="116" width="4" height="5" fill="#fff" />
<rect x="87.5" y="110" width="1" height="4" fill="#fff" />
<rect x="90.5" y="122" width="1" height="1" fill="#fff" />
<rect x="87.5" y="122" width="1" height="1" fill="#fff" />
<rect x="92" y="116" width="4" height="5" fill="#fff" />
<rect x="93.5" y="110" width="1" height="4" fill="#fff" />
<rect x="96.5" y="122" width="1" height="1" fill="#fff" />
<rect x="93.5" y="122" width="1" height="1" fill="#fff" />
<rect x="98" y="116" width="4" height="5" fill="#fff" />
<rect x="99.5" y="110" width="1" height="4" fill="#fff" />
<rect x="102.5" y="122" width="1" height="1" fill="#fff" />
<rect x="99.5" y="122" width="1" height="1" fill="#fff" />
<rect x="104" y="116" width="4" height="5" fill="#fff" />
<rect x="105.5" y="110" width="1" height="4" fill="#fff" />
<rect x="108.5" y="122" width="1" height="1" fill="#fff" />
<rect x="105.5" y="122" width="1" height="1" fill="#fff" />
<rect x="110" y="116" width="4" height="5" fill="#fff" />
<rect x="111.5" y="110" width="1" height="4" fill="#fff" />
<rect x="114.5" y="122" width="1" height="1" fill="#fff" />
<rect x="111.5" y="122" width="1" height="1" fill="#fff" />
<rect x="116" y="116" width="4" height="5" fill="#fff" />
<rect x="117.5" y="110" width="1" height="4" fill="#fff" />
<rect x="120.5" y="122" width="1" height="1" fill="#fff" />
<rect x="117.5" y="122" width="1" height="1" fill="#fff" />
<rect x="122" y="116" width="4" height="5" fill="#fff" />
<rect x="123.5" y="110" width="1" height="4" fill="#fff" />
<rect x="126.5" y="122" width="1" height="1" fill="#fff" />
<rect x="123.5" y="122" width="1" height="1" fill="#fff" />
<rect x="127" y="116" width="4" height="5" fill="#fff" />
<rect x="128.5" y="110" width="1" height="4" fill="#fff" />
<rect x="131.5" y="122" width="1" height="1" fill="#fff" />
<rect x="128.5" y="122" width="1" height="1" fill="#fff" />
<rect x="133" y="116" width="4" height="5" fill="#fff" />
<rect x="134.5" y="110" width="1" height="4" fill="#fff" />
<rect x="137.5" y="122" width="1" height="1" fill="#fff" />
<rect x="134.5" y="122" width="1" height="1" fill="#fff" />
<rect x="139" y="116" width="4" height="5" fill="#fff" />
<rect x="140.5" y="110" width="1" height="4" fill="#fff" />
<rect x="143.5" y="122" width="1" height="1" fill="#fff" />
<rect x="140.5" y="122" width="1" height="1" fill="#fff" />
<rect x="145" y="116" width="4" height="5" fill="#fff" />
<rect x="146.5" y="110" width="1" height="4" fill="#fff" />
<rect x="149.5" y="122" width="1" height="1" fill="#fff" />
<rect x="146.5" y="122" width="1" height="1" fill="#fff" />
<rect x="151" y="116" width="4" height="5" fill="#fff" />
<rect x="152.5" y="110" width="1" height="4" fill="#fff" />
<rect x="155.5" y="122" width="1" height="1" fill="#fff" />
<rect x="152.5" y="122" width="1" height="1" fill="#fff" />
<rect x="157" y="116" width="4" height="5" fill="#fff" />
<rect x="158.5" y="110" width="1" height="4" fill="#fff" />
<rect x="161.5" y="122" width="1" height="1" fill="#fff" />
<rect x="158.5" y="122" width="1" height="1" fill="#fff" />
<rect x="163" y="116" width="4" height="5" fill="#fff" />
<rect x="164.5" y="110" width="1" height="4" fill="#fff" />
<rect x="167.5" y="122" width="1" height="1" fill="#fff" />
<rect x="164.5" y="122" width="1" height="1" fill="#fff" />
<rect x="169" y="116" width="4" height="5" fill="#fff" />
<rect x="170.5" y="110" width="1" height="4" fill="#fff" />
<rect x="173.5" y="122" width="1" height="1" fill="#fff" />
<rect x="170.5" y="122" width="1" height="1" fill="#fff" />
<rect x="174" y="116" width="4" height="5" fill="#fff" />
<rect x="175.5" y="110" width="1" height="4" fill="#fff" />
<rect x="178.5" y="122" width="1" height="1" fill="#fff" />
<rect x="175.5" y="122" width="1" height="1" fill="#fff" />
<rect x="180" y="116" width="4" height="5" fill="#fff" />
<rect x="181.5" y="110" width="1" height="4" fill="#fff" />
<rect x="184.5" y="122" width="1" height="1" fill="#fff" />
<rect x="181.5" y="122" width="1" height="1" fill="#fff" />
<rect x="186" y="116" width="4" height="5" fill="#fff" />
<rect x="187.5" y="110" width="1" height="4" fill="#fff" />
<rect x="190.5" y="122" width="1" height="1" fill="#fff" />
<rect x="187.5" y="122" width="1" height="1" fill="#fff" />
<rect x="192" y="116" width="4" height="5" fill="#fff" />
<rect x="193.5" y="110" width="1" height="4" fill="#fff" />
<rect x="196.5" y="122" width="1" height="1" fill="#fff" />
<rect x="193.5" y="122" width="1" height="1" fill="#fff" />
<rect x="198" y="116" width="4" height="5" fill="#fff" />
<rect x="199.5" y="110" width="1" height="4" fill="#fff" />
<rect x="202.5" y="122" width="1" height="1" fill="#fff" />
<rect x="199.5" y="122" width="1" height="1" fill="#fff" />
<rect x="204" y="116" width="4" height="5" fill="#fff" />
<rect x="205.5" y="110" width="1" height="4" fill="#fff" />
<rect x="208.5" y="122" width="1" height="1" fill="#fff" />
<rect x="205.5" y="122" width="1" height="1" fill="#fff" />
<rect x="210" y="116" width="4" height="5" fill="#fff" />
<rect x="211.5" y="110" width="1" height="4" fill="#fff" />
<rect x="214.5" y="122" width="1" height="1" fill="#fff" />
<rect x="211.5" y="122" width="1" height="1" fill="#fff" />
<path d="M232 108 H223 V112 H220 V122 H232 Z" fill="#000" />
<path d="M231.5 109.5 H224.5 V113.5 H221.5 V120.8 H231.5 Z" fill="#fff" />
<rect x="227" y="111" width="4.5" height="1" fill="#000" />
<rect x="227" y="111" width="1" height="3.5" fill="#000" />
<rect x="224" y="113.5" width="4" height="1.2" fill="#000" />
<rect x="231.5" y="106" width="3.5" height="19" fill="#000" />
<rect x="234.5" y="106.5" width="7" height="7" fill="#fff" stroke="#000" stroke-width="1"/>
<rect x="234.5" y="113.5" width="8" height="7" fill="#fff" stroke="#000" stroke-width="1"/>
<rect x="234.5" y="120.5" width="7" height="4" fill="#fff" stroke="#000" stroke-width="1"/>
<rect x="245.5" y="106.5" width="226" height="18" fill="#fff" stroke="#000" stroke-width="1"/>
<rect x="246.5" y="106.5" width="7" height="7" fill="#fff" stroke="#000" stroke-width="1"/>
<rect x="245.5" y="113.5" width="8" height="7" fill="#fff" stroke="#000" stroke-width="1"/>
<rect x="246.5" y="120.5" width="7" height="4" fill="#fff" stroke="#000" stroke-width="1"/>
<rect x="253" y="106" width="3.5" height="19" fill="#000" />
<path d="M256 108 H265 V112 H268 V122 H256 Z" fill="#000" />
<path d="M256.5 109.5 H263.5 V113.5 H266.5 V120.8 H256.5 Z" fill="#fff" />
<rect x="256.5" y="111" width="4.5" height="1" fill="#000" />
<rect x="260" y="111" width="1" height="3.5" fill="#000" />
<rect x="260" y="113.5" width="4" height="1.2" fill="#000" />
<rect x="271" y="108" width="174.5" height="15" fill="#000" />
<rect x="271" y="116" width="1" height="5" fill="#fff" />
<rect x="273" y="116" width="4" height="5" fill="#fff" />
<rect x="274.5" y="110" width="1" height="4" fill="#fff" />
<rect x="277.5" y="122" width="1" height="1" fill="#fff" />
<rect x="274.5" y="122" width="1" height="1" fill="#fff" />
<rect x="279" y="116" width="4" height="5" fill="#fff" />
<rect x="280.5" y="110" width="1" height="4" fill="#fff" />
<rect x="283.5" y="122" width="1" height="1" fill="#fff" />
<rect x="280.5" y="122" width="1" height="1" fill="#fff" />
<rect x="285" y="116" width="4" height="5" fill="#fff" />
<rect x="286.5" y="110" width="1" height="4" fill="#fff" />
<rect x="289.5" y="122" width="1" height="1" fill="#fff" />
<rect x="286.5" y="122" width="1" height="1" fill="#fff" />
<rect x="291" y="116" width="4" height="5" fill="#fff" />
<rect x="292.5" y="110" width="1" height="4" fill="#fff" />
<rect x="295.5" y="122" width="1" height="1" fill="#fff" />
<rect x="292.5" y="122" width="1" height="1" fill="#fff" />
<rect x="297" y="116" width="4" height="5" fill="#fff" />
<rect x="298.5" y="110" width="1" height="4" fill="#fff" />
<rect x="301.5" y="122" width="1" height="1" fill="#fff" />
<rect x="298.5" y="122" width="1" height="1" fill="#fff" />
<rect x="302" y="116" width="4" height="5" fill="#fff" />
<rect x="303.5" y="110" width="1" height="4" fill="#fff" />
<rect x="306.5" y="122" width="1" height="1" fill="#fff" />
<rect x="303.5" y="122" width="1" height="1" fill="#fff" />
<rect x="308" y="116" width="4" height="5" fill="#fff" />
<rect x="309.5" y="110" width="1" height="4" fill="#fff" />
<rect x="312.5" y="122" width="1" height="1" fill="#fff" />
<rect x="309.5" y="122" width="1" height="1" fill="#fff" />
<rect x="314" y="116" width="4" height="5" fill="#fff" />
<rect x="315.5" y="110" width="1" height="4" fill="#fff" />
<rect x="318.5" y="122" width="1" height="1" fill="#fff" />
<rect x="315.5" y="122" width="1" height="1" fill="#fff" />
<rect x="320" y="116" width="4" height="5" fill="#fff" />
<rect x="321.5" y="110" width="1" height="4" fill="#fff" />
<rect x="324.5" y="122" width="1" height="1" fill="#fff" />
<rect x="321.5" y="122" width="1" height="1" fill="#fff" />
<rect x="326" y="116" width="4" height="5" fill="#fff" />
<rect x="327.5" y="110" width="1" height="4" fill="#fff" />
<rect x="330.5" y="122" width="1" height="1" fill="#fff" />
<rect x="327.5" y="122" width="1" height="1" fill="#fff" />
<rect x="332" y="116" width="4" height="5" fill="#fff" />
<rect x="333.5" y="110" width="1" height="4" fill="#fff" />
<rect x="336.5" y="122" width="1" height="1" fill="#fff" />
<rect x="333.5" y="122" width="1" height="1" fill="#fff" />
<rect x="338" y="116" width="4" height="5" fill="#fff" />
<rect x="339.5" y="110" width="1" height="4" fill="#fff" />
<rect x="342.5" y="122" width="1" height="1" fill="#fff" />
<rect x="339.5" y="122" width="1" height="1" fill="#fff" />
<rect x="344" y="116" width="4" height="5" fill="#fff" />
<rect x="345.5" y="110" width="1" height="4" fill="#fff" />
<rect x="348.5" y="122" width="1" height="1" fill="#fff" />
<rect x="345.5" y="122" width="1" height="1" fill="#fff" />
<rect x="350" y="116" width="4" height="5" fill="#fff" />
<rect x="351.5" y="110" width="1" height="4" fill="#fff" />
<rect x="354.5" y="122" width="1" height="1" fill="#fff" />
<rect x="351.5" y="122" width="1" height="1" fill="#fff" />
<rect x="355" y="116" width="4" height="5" fill="#fff" />
<rect x="356.5" y="110" width="1" height="4" fill="#fff" />
<rect x="359.5" y="122" width="1" height="1" fill="#fff" />
<rect x="356.5" y="122" width="1" height="1" fill="#fff" />
<rect x="361" y="116" width="4" height="5" fill="#fff" />
<rect x="362.5" y="110" width="1" height="4" fill="#fff" />
<rect x="365.5" y="122" width="1" height="1" fill="#fff" />
<rect x="362.5" y="122" width="1" height="1" fill="#fff" />
<rect x="367" y="116" width="4" height="5" fill="#fff" />
<rect x="368.5" y="110" width="1" height="4" fill="#fff" />
<rect x="371.5" y="122" width="1" height="1" fill="#fff" />
<rect x="368.5" y="122" width="1" height="1" fill="#fff" />
<rect x="373" y="116" width="4" height="5" fill="#fff" />
<rect x="374.5" y="110" width="1" height="4" fill="#fff" />
<rect x="377.5" y="122" width="1" height="1" fill="#fff" />
<rect x="374.5" y="122" width="1" height="1" fill="#fff" />
<rect x="379" y="116" width="4" height="5" fill="#fff" />
<rect x="380.5" y="110" width="1" height="4" fill="#fff" />
<rect x="383.5" y="122" width="1" height="1" fill="#fff" />
<rect x="380.5" y="122" width="1" height="1" fill="#fff" />
<rect x="385" y="116" width="4" height="5" fill="#fff" />
<rect x="386.5" y="110" width="1" height="4" fill="#fff" />
<rect x="389.5" y="122" width="1" height="1" fill="#fff" />
<rect x="386.5" y="122" width="1" height="1" fill="#fff" />
<rect x="391" y="116" width="4" height="5" fill="#fff" />
<rect x="392.5" y="110" width="1" height="4" fill="#fff" />
<rect x="395.5" y="122" width="1" height="1" fill="#fff" />
<rect x="392.5" y="122" width="1" height="1" fill="#fff" />
<rect x="397" y="116" width="4" height="5" fill="#fff" />
<rect x="398.5" y="110" width="1" height="4" fill="#fff" />
<rect x="401.5" y="122" width="1" height="1" fill="#fff" />
<rect x="398.5" y="122" width="1" height="1" fill="#fff" />
<rect x="402" y="116" width="4" height="5" fill="#fff" />
<rect x="403.5" y="110" width="1" height="4" fill="#fff" />
<rect x="406.5" y="122" width="1" height="1" fill="#fff" />
<rect x="403.5" y="122" width="1" height="1" fill="#fff" />
<rect x="408" y="116" width="4" height="5" fill="#fff" />
<rect x="409.5" y="110" width="1" height="4" fill="#fff" />
<rect x="412.5" y="122" width="1" height="1" fill="#fff" />
<rect x="409.5" y="122" width="1" height="1" fill="#fff" />
<rect x="414" y="116" width="4" height="5" fill="#fff" />
<rect x="415.5" y="110" width="1" height="4" fill="#fff" />
<rect x="418.5" y="122" width="1" height="1" fill="#fff" />
<rect x="415.5" y="122" width="1" height="1" fill="#fff" />
<rect x="420" y="116" width="4" height="5" fill="#fff" />
<rect x="421.5" y="110" width="1" height="4" fill="#fff" />
<rect x="424.5" y="122" width="1" height="1" fill="#fff" />
<rect x="421.5" y="122" width="1" height="1" fill="#fff" />
<rect x="426" y="116" width="4" height="5" fill="#fff" />
<rect x="427.5" y="110" width="1" height="4" fill="#fff" />
<rect x="430.5" y="122" width="1" height="1" fill="#fff" />
<rect x="427.5" y="122" width="1" height="1" fill="#fff" />
<rect x="432" y="116" width="4" height="5" fill="#fff" />
<rect x="433.5" y="110" width="1" height="4" fill="#fff" />
<rect x="436.5" y="122" width="1" height="1" fill="#fff" />
<rect x="433.5" y="122" width="1" height="1" fill="#fff" />
<rect x="438" y="116" width="4" height="5" fill="#fff" />
<rect x="439.5" y="110" width="1" height="4" fill="#fff" />
<rect x="442.5" y="122" width="1" height="1" fill="#fff" />
<rect x="439.5" y="122" width="1" height="1" fill="#fff" />
<path d="M461 108 H452 V112 H449 V122 H461 Z" fill="#000" />
<path d="M460.5 109.5 H453.5 V113.5 H450.5 V120.8 H460.5 Z" fill="#fff" />
<rect x="456" y="111" width="4.5" height="1" fill="#000" />
<rect x="456" y="111" width="1" height="3.5" fill="#000" />
<rect x="453" y="113.5" width="4" height="1.2" fill="#000" />
<rect x="460.5" y="106" width="3.5" height="19" fill="#000" />
<rect x="463.5" y="106.5" width="7" height="7" fill="#fff" stroke="#000" stroke-width="1"/>
<rect x="463.5" y="113.5" width="8" height="7" fill="#fff" stroke="#000" stroke-width="1"/>
<rect x="463.5" y="120.5" width="7" height="4" fill="#fff" stroke="#000" stroke-width="1"/>
<rect x="16.5" y="126.5" width="226" height="19" fill="#fff" stroke="#000" stroke-width="1"/>
<rect x="17.5" y="126.5" width="7" height="7" fill="#fff" stroke="#000" stroke-width="1"/>
<rect x="16.5" y="133.5" width="8" height="7" fill="#fff" stroke="#000" stroke-width="1"/>
<rect x="17.5" y="140.5" width="7" height="5" fill="#fff" stroke="#000" stroke-width="1"/>
<rect x="24" y="126" width="3.5" height="20" fill="#000" />
<path d="M27 128 H36 V132 H39 V142 H27 Z" fill="#000" />
<path d="M27.5 129.5 H34.5 V133.5 H37.5 V140.8 H27.5 Z" fill="#fff" />
<rect x="27.5" y="131" width="4.5" height="1" fill="#000" />
<rect x="31" y="131" width="1" height="3.5" fill="#000" />
<rect x="31" y="133.5" width="4" height="1.2" fill="#000" />
<rect x="42" y="128" width="174.5" height="15" fill="#000" />
<rect x="43" y="136" width="1" height="5" fill="#fff" />
<rect x="45" y="136" width="4" height="5" fill="#fff" />
<rect x="46.5" y="130" width="1" height="4" fill="#fff" />
<rect x="49.5" y="142" width="1" height="1" fill="#fff" />
<rect x="46.5" y="142" width="1" height="1" fill="#fff" />
<rect x="51" y="136" width="4" height="5" fill="#fff" />
<rect x="52.5" y="130" width="1" height="4" fill="#fff" />
<rect x="55.5" y="142" width="1" height="1" fill="#fff" />
<rect x="52.5" y="142" width="1" height="1" fill="#fff" />
<rect x="57" y="136" width="4" height="5" fill="#fff" />
<rect x="58.5" y="130" width="1" height="4" fill="#fff" />
<rect x="61.5" y="142" width="1" height="1" fill="#fff" />
<rect x="58.5" y="142" width="1" height="1" fill="#fff" />
<rect x="63" y="136" width="4" height="5" fill="#fff" />
<rect x="64.5" y="130" width="1" height="4" fill="#fff" />
<rect x="67.5" y="142" width="1" height="1" fill="#fff" />
<rect x="64.5" y="142" width="1" height="1" fill="#fff" />
<rect x="69" y="136" width="4" height="5" fill="#fff" />
<rect x="70.5" y="130" width="1" height="4" fill="#fff" />
<rect x="73.5" y="142" width="1" height="1" fill="#fff" />
<rect x="70.5" y="142" width="1" height="1" fill="#fff" />
<rect x="74" y="136" width="4" height="5" fill="#fff" />
<rect x="75.5" y="130" width="1" height="4" fill="#fff" />
<rect x="78.5" y="142" width="1" height="1" fill="#fff" />
<rect x="75.5" y="142" width="1" height="1" fill="#fff" />
<rect x="80" y="136" width="4" height="5" fill="#fff" />
<rect x="81.5" y="130" width="1" height="4" fill="#fff" />
<rect x="84.5" y="142" width="1" height="1" fill="#fff" />
<rect x="81.5" y="142" width="1" height="1" fill="#fff" />
<rect x="86" y="136" width="4" height="5" fill="#fff" />
<rect x="87.5" y="130" width="1" height="4" fill="#fff" />
<rect x="90.5" y="142" width="1" height="1" fill="#fff" />
<rect x="87.5" y="142" width="1" height="1" fill="#fff" />
<rect x="92" y="136" width="4" height="5" fill="#fff" />
<rect x="93.5" y="130" width="1" height="4" fill="#fff" />
<rect x="96.5" y="142" width="1" height="1" fill="#fff" />
<rect x="93.5" y="142" width="1" height="1" fill="#fff" />
<rect x="98" y="136" width="4" height="5" fill="#fff" />
<rect x="99.5" y="130" width="1" height="4" fill="#fff" />
<rect x="102.5" y="142" width="1" height="1" fill="#fff" />
<rect x="99.5" y="142" width="1" height="1" fill="#fff" />
<rect x="104" y="136" width="4" height="5" fill="#fff" />
<rect x="105.5" y="130" width="1" height="4" fill="#fff" />
<rect x="108.5" y="142" width="1" height="1" fill="#fff" />
<rect x="105.5" y="142" width="1" height="1" fill="#fff" />
<rect x="110" y="136" width="4" height="5" fill="#fff" />
<rect x="111.5" y="130" width="1" height="4" fill="#fff" />
<rect x="114.5" y="142" width="1" height="1" fill="#fff" />
<rect x="111.5" y="142" width="1" height="1" fill="#fff" />
<rect x="116" y="136" width="4" height="5" fill="#fff" />
<rect x="117.5" y="130" width="1" height="4" fill="#fff" />
<rect x="120.5" y="142" width="1" height="1" fill="#fff" />
<rect x="117.5" y="142" width="1" height="1" fill="#fff" />
<rect x="122" y="136" width="4" height="5" fill="#fff" />
<rect x="123.5" y="130" width="1" height="4" fill="#fff" />
<rect x="126.5" y="142" width="1" height="1" fill="#fff" />
<rect x="123.5" y="142" width="1" height="1" fill="#fff" />
<rect x="127" y="136" width="4" height="5" fill="#fff" />
<rect x="128.5" y="130" width="1" height="4" fill="#fff" />
<rect x="131.5" y="142" width="1" height="1" fill="#fff" />
<rect x="128.5" y="142" width="1" height="1" fill="#fff" />
<rect x="133" y="136" width="4" height="5" fill="#fff" />
<rect x="134.5" y="130" width="1" height="4" fill="#fff" />
<rect x="137.5" y="142" width="1" height="1" fill="#fff" />
<rect x="134.5" y="142" width="1" height="1" fill="#fff" />
<rect x="139" y="136" width="4" height="5" fill="#fff" />
<rect x="140.5" y="130" width="1" height="4" fill="#fff" />
<rect x="143.5" y="142" width="1" height="1" fill="#fff" />
<rect x="140.5" y="142" width="1" height="1" fill="#fff" />
<rect x="145" y="136" width="4" height="5" fill="#fff" />
<rect x="146.5" y="130" width="1" height="4" fill="#fff" />
<rect x="149.5" y="142" width="1" height="1" fill="#fff" />
<rect x="146.5" y="142" width="1" height="1" fill="#fff" />
<rect x="151" y="136" width="4" height="5" fill="#fff" />
<rect x="152.5" y="130" width="1" height="4" fill="#fff" />
<rect x="155.5" y="142" width="1" height="1" fill="#fff" />
<rect x="152.5" y="142" width="1" height="1" fill="#fff" />
<rect x="157" y="136" width="4" height="5" fill="#fff" />
<rect x="158.5" y="130" width="1" height="4" fill="#fff" />
<rect x="161.5" y="142" width="1" height="1" fill="#fff" />
<rect x="158.5" y="142" width="1" height="1" fill="#fff" />
<rect x="163" y="136" width="4" height="5" fill="#fff" />
<rect x="164.5" y="130" width="1" height="4" fill="#fff" />
<rect x="167.5" y="142" width="1" height="1" fill="#fff" />
<rect x="164.5" y="142" width="1" height="1" fill="#fff" />
<rect x="169" y="136" width="4" height="5" fill="#fff" />
<rect x="170.5" y="130" width="1" height="4" fill="#fff" />
<rect x="173.5" y="142" width="1" height="1" fill="#fff" />
<rect x="170.5" y="142" width="1" height="1" fill="#fff" />
<rect x="174" y="136" width="4" height="5" fill="#fff" />
<rect x="175.5" y="130" width="1" height="4" fill="#fff" />
<rect x="178.5" y="142" width="1" height="1" fill="#fff" />
<rect x="175.5" y="142" width="1" height="1" fill="#fff" />
<rect x="180" y="136" width="4" height="5" fill="#fff" />
<rect x="181.5" y="130" width="1" height="4" fill="#fff" />
<rect x="184.5" y="142" width="1" height="1" fill="#fff" />
<rect x="181.5" y="142" width="1" height="1" fill="#fff" />
<rect x="186" y="136" width="4" height="5" fill="#fff" />
<rect x="187.5" y="130" width="1" height="4" fill="#fff" />
<rect x="190.5" y="142" width="1" height="1" fill="#fff" />
<rect x="187.5" y="142" width="1" height="1" fill="#fff" />
<rect x="192" y="136" width="4" height="5" fill="#fff" />
<rect x="193.5" y="130" width="1" height="4" fill="#fff" />
<rect x="196.5" y="142" width="1" height="1" fill="#fff" />
<rect x="193.5" y="142" width="1" height="1" fill="#fff" />
<rect x="198" y="136" width="4" height="5" fill="#fff" />
<rect x="199.5" y="130" width="1" height="4" fill="#fff" />
<rect x="202.5" y="142" width="1" height="1" fill="#fff" />
<rect x="199.5" y="142" width="1" height="1" fill="#fff" />
<rect x="204" y="136" width="4" height="5" fill="#fff" />
<rect x="205.5" y="130" width="1" height="4" fill="#fff" />
<rect x="208.5" y="142" width="1" height="1" fill="#fff" />
<rect x="205.5" y="142" width="1" height="1" fill="#fff" />
<rect x="210" y="136" width="4" height="5" fill="#fff" />
<rect x="211.5" y="130" width="1" height="4" fill="#fff" />
<rect x="214.5" y="142" width="1" height="1" fill="#fff" />
<rect x="211.5" y="142" width="1" height="1" fill="#fff" />
<path d="M232 128 H223 V132 H220 V142 H232 Z" fill="#000" />
<path d="M231.5 129.5 H224.5 V133.5 H221.5 V140.8 H231.5 Z" fill="#fff" />
<rect x="227" y="131" width="4.5" height="1" fill="#000" />
<rect x="227" y="131" width="1" height="3.5" fill="#000" />
<rect x="224" y="133.5" width="4" height="1.2" fill="#000" />
<rect x="231.5" y="126" width="3.5" height="20" fill="#000" />
<rect x="234.5" y="126.5" width="7" height="7" fill="#fff" stroke="#000" stroke-width="1"/>
<rect x="234.5" y="133.5" width="8" height="7" fill="#fff" stroke="#000" stroke-width="1"/>
<rect x="234.5" y="140.5" width="7" height="5" fill="#fff" stroke="#000" stroke-width="1"/>
<rect x="245.5" y="126.5" width="226" height="19" fill="#fff" stroke="#000" stroke-width="1"/>
<rect x="246.5" y="126.5" width="7" height="7" fill="#fff" stroke="#000" stroke-width="1"/>
<rect x="245.5" y="133.5" width="8" height="7" fill="#fff" stroke="#000" stroke-width="1"/>
<rect x="246.5" y="140.5" width="7" height="5" fill="#fff" stroke="#000" stroke-width="1"/>
<rect x="253" y="126" width="3.5" height="20" fill="#000" />
<path d="M256 128 H265 V132 H268 V142 H256 Z" fill="#000" />
<path d="M256.5 129.5 H263.5 V133.5 H266.5 V140.8 H256.5 Z" fill="#fff" />
<rect x="256.5" y="131" width="4.5" height="1" fill="#000" />
<rect x="260" y="131" width="1" height="3.5" fill="#000" />
<rect x="260" y="133.5" width="4" height="1.2" fill="#000" />
<rect x="271" y="128" width="174.5" height="15" fill="#000" />
<rect x="271" y="136" width="1" height="5" fill="#fff" />
<rect x="273" y="136" width="4" height="5" fill="#fff" />
<rect x="274.5" y="130" width="1" height="4" fill="#fff" />
<rect x="277.5" y="142" width="1" height="1" fill="#fff" />
<rect x="274.5" y="142" width="1" height="1" fill="#fff" />
<rect x="279" y="136" width="4" height="5" fill="#fff" />
<rect x="280.5" y="130" width="1" height="4" fill="#fff" />
<rect x="283.5" y="142" width="1" height="1" fill="#fff" />
<rect x="280.5" y="142" width="1" height="1" fill="#fff" />
<rect x="285" y="136" width="4" height="5" fill="#fff" />
<rect x="286.5" y="130" width="1" height="4" fill="#fff" />
<rect x="289.5" y="142" width="1" height="1" fill="#fff" />
<rect x="286.5" y="142" width="1" height="1" fill="#fff" />
<rect x="291" y="136" width="4" height="5" fill="#fff" />
<rect x="292.5" y="130" width="1" height="4" fill="#fff" />
<rect x="295.5" y="142" width="1" height="1" fill="#fff" />
<rect x="292.5" y="142" width="1" height="1" fill="#fff" />
<rect x="297" y="136" width="4" height="5" fill="#fff" />
<rect x="298.5" y="130" width="1" height="4" fill="#fff" />
<rect x="301.5" y="142" width="1" height="1" fill="#fff" />
<rect x="298.5" y="142" width="1" height="1" fill="#fff" />
<rect x="302" y="136" width="4" height="5" fill="#fff" />
<rect x="303.5" y="130" width="1" height="4" fill="#fff" />
<rect x="306.5" y="142" width="1" height="1" fill="#fff" />
<rect x="303.5" y="142" width="1" height="1" fill="#fff" />
<rect x="308" y="136" width="4" height="5" fill="#fff" />
<rect x="309.5" y="130" width="1" height="4" fill="#fff" />
<rect x="312.5" y="142" width="1" height="1" fill="#fff" />
<rect x="309.5" y="142" width="1" height="1" fill="#fff" />
<rect x="314" y="136" width="4" height="5" fill="#fff" />
<rect x="315.5" y="130" width="1" height="4" fill="#fff" />
<rect x="318.5" y="142" width="1" height="1" fill="#fff" />
<rect x="315.5" y="142" width="1" height="1" fill="#fff" />
<rect x="320" y="136" width="4" height="5" fill="#fff" />
<rect x="321.5" y="130" width="1" height="4" fill="#fff" />
<rect x="324.5" y="142" width="1" height="1" fill="#fff" />
<rect x="321.5" y="142" width="1" height="1" fill="#fff" />
<rect x="326" y="136" width="4" height="5" fill="#fff" />
<rect x="327.5" y="130" width="1" height="4" fill="#fff" />
<rect x="330.5" y="142" width="1" height="1" fill="#fff" />
<rect x="327.5" y="142" width="1" height="1" fill="#fff" />
<rect x="332" y="136" width="4" height="5" fill="#fff" />
<rect x="333.5" y="130" width="1" height="4" fill="#fff" />
<rect x="336.5" y="142" width="1" height="1" fill="#fff" />
<rect x="333.5" y="142" width="1" height="1" fill="#fff" />
<rect x="338" y="136" width="4" height="5" fill="#fff" />
<rect x="339.5" y="130" width="1" height="4" fill="#fff" />
<rect x="342.5" y="142" width="1" height="1" fill="#fff" />
<rect x="339.5" y="142" width="1" height="1" fill="#fff" />
<rect x="344" y="136" width="4" height="5" fill="#fff" />
<rect x="345.5" y="130" width="1" height="4" fill="#fff" />
<rect x="348.5" y="142" width="1" height="1" fill="#fff" />
<rect x="345.5" y="142" width="1" height="1" fill="#fff" />
<rect x="350" y="136" width="4" height="5" fill="#fff" />
<rect x="351.5" y="130" width="1" height="4" fill="#fff" />
<rect x="354.5" y="142" width="1" height="1" fill="#fff" />
<rect x="351.5" y="142" width="1" height="1" fill="#fff" />
<rect x="355" y="136" width="4" height="5" fill="#fff" />
<rect x="356.5" y="130" width="1" height="4" fill="#fff" />
<rect x="359.5" y="142" width="1" height="1" fill="#fff" />
<rect x="356.5" y="142" width="1" height="1" fill="#fff" />
<rect x="361" y="136" width="4" height="5" fill="#fff" />
<rect x="362.5" y="130" width="1" height="4" fill="#fff" />
<rect x="365.5" y="142" width="1" height="1" fill="#fff" />
<rect x="362.5" y="142" width="1" height="1" fill="#fff" />
<rect x="367" y="136" width="4" height="5" fill="#fff" />
<rect x="368.5" y="130" width="1" height="4" fill="#fff" />
<rect x="371.5" y="142" width="1" height="1" fill="#fff" />
<rect x="368.5" y="142" width="1" height="1" fill="#fff" />
<rect x="373" y="136" width="4" height="5" fill="#fff" />
<rect x="374.5" y="130" width="1" height="4" fill="#fff" />
<rect x="377.5" y="142" width="1" height="1" fill="#fff" />
<rect x="374.5" y="142" width="1" height="1" fill="#fff" />
<rect x="379" y="136" width="4" height="5" fill="#fff" />
<rect x="380.5" y="130" width="1" height="4" fill="#fff" />
<rect x="383.5" y="142" width="1" height="1" fill="#fff" />
<rect x="380.5" y="142" width="1" height="1" fill="#fff" />
<rect x="385" y="136" width="4" height="5" fill="#fff" />
<rect x="386.5" y="130" width="1" height="4" fill="#fff" />
<rect x="389.5" y="142" width="1" height="1" fill="#fff" />
<rect x="386.5" y="142" width="1" height="1" fill="#fff" />
<rect x="391" y="136" width="4" height="5" fill="#fff" />
<rect x="392.5" y="130" width="1" height="4" fill="#fff" />
<rect x="395.5" y="142" width="1" height="1" fill="#fff" />
<rect x="392.5" y="142" width="1" height="1" fill="#fff" />
<rect x="397" y="136" width="4" height="5" fill="#fff" />
<rect x="398.5" y="130" width="1" height="4" fill="#fff" />
<rect x="401.5" y="142" width="1" height="1" fill="#fff" />
<rect x="398.5" y="142" width="1" height="1" fill="#fff" />
<rect x="402" y="136" width="4" height="5" fill="#fff" />
<rect x="403.5" y="130" width="1" height="4" fill="#fff" />
<rect x="406.5" y="142" width="1" height="1" fill="#fff" />
<rect x="403.5" y="142" width="1" height="1" fill="#fff" />
<rect x="408" y="136" width="4" height="5" fill="#fff" />
<rect x="409.5" y="130" width="1" height="4" fill="#fff" />
<rect x="412.5" y="142" width="1" height="1" fill="#fff" />
<rect x="409.5" y="142" width="1" height="1" fill="#fff" />
<rect x="414" y="136" width="4" height="5" fill="#fff" />
<rect x="415.5" y="130" width="1" height="4" fill="#fff" />
<rect x="418.5" y="142" width="1" height="1" fill="#fff" />
<rect x="415.5" y="142" width="1" height="1" fill="#fff" />
<rect x="420" y="136" width="4" height="5" fill="#fff" />
<rect x="421.5" y="130" width="1" height="4" fill="#fff" />
<rect x="424.5" y="142" width="1" height="1" fill="#fff" />
<rect x="421.5" y="142" width="1" height="1" fill="#fff" />
<rect x="426" y="136" width="4" height="5" fill="#fff" />
<rect x="427.5" y="130" width="1" height="4" fill="#fff" />
<rect x="430.5" y="142" width="1" height="1" fill="#fff" />
<rect x="427.5" y="142" width="1" height="1" fill="#fff" />
<rect x="432" y="136" width="4" height="5" fill="#fff" />
<rect x="433.5" y="130" width="1" height="4" fill="#fff" />
<rect x="436.5" y="142" width="1" height="1" fill="#fff" />
<rect x="433.5" y="142" width="1" height="1" fill="#fff" />
<rect x="438" y="136" width="4" height="5" fill="#fff" />
<rect x="439.5" y="130" width="1" height="4" fill="#fff" />
<rect x="442.5" y="142" width="1" height="1" fill="#fff" />
<rect x="439.5" y="142" width="1" height="1" fill="#fff" />
<path d="M461 128 H452 V132 H449 V142 H461 Z" fill="#000" />
<path d="M460.5 129.5 H453.5 V133.5 H450.5 V140.8 H460.5 Z" fill="#fff" />
<rect x="456" y="131" width="4.5" height="1" fill="#000" />
<rect x="456" y="131" width="1" height="3.5" fill="#000" />
<rect x="453" y="133.5" width="4" height="1.2" fill="#000" />
<rect x="460.5" y="126" width="3.5" height="20" fill="#000" />
<rect x="463.5" y="126.5" width="7" height="7" fill="#fff" stroke="#000" stroke-width="1"/>
<rect x="463.5" y="133.5" width="8" height="7" fill="#fff" stroke="#000" stroke-width="1"/>
<rect x="463.5" y="140.5" width="7" height="5" fill="#fff" stroke="#000" stroke-width="1"/>
<rect x="98.5" y="27.5" width="277" height="14" fill="#fff" stroke="#000" stroke-width="1"/>
<rect x="98.5" y="27.5" width="7" height="5" fill="#fff" stroke="#000" stroke-width="1"/>
<rect x="98.5" y="32.5" width="7" height="5" fill="#fff" stroke="#000" stroke-width="1"/>
<rect x="98.5" y="37.5" width="7" height="4" fill="#fff" stroke="#000" stroke-width="1"/>
<rect x="106" y="27" width="2.5" height="15" fill="#000" />
<path d="M110 29 H120 V40 H114 V36 H110 Z" fill="#000" />
<path d="M111.2 30.5 H118.8 V38.8 H115.5 V34.8 H111.2 Z" fill="#fff" />
<rect x="122" y="29" width="231" height="11" fill="#000" />
<rect x="124" y="30.5" width="1" height="4.5" fill="#fff" />
<rect x="127" y="30.5" width="1" height="4.5" fill="#fff" />
<rect x="130" y="30.5" width="1" height="4.5" fill="#fff" />
<rect x="133" y="30.5" width="1" height="4.5" fill="#fff" />
<rect x="136" y="30.5" width="1" height="4.5" fill="#fff" />
<rect x="139" y="30.5" width="1" height="4.5" fill="#fff" />
<rect x="142" y="30.5" width="1" height="4.5" fill="#fff" />
<rect x="145" y="30.5" width="1" height="4.5" fill="#fff" />
<rect x="148" y="30.5" width="1" height="4.5" fill="#fff" />
<rect x="151" y="30.5" width="1" height="4.5" fill="#fff" />
<rect x="154" y="30.5" width="1" height="4.5" fill="#fff" />
<rect x="157" y="30.5" width="1" height="4.5" fill="#fff" />
<rect x="160" y="30.5" width="1" height="4.5" fill="#fff" />
<rect x="163" y="30.5" width="1" height="4.5" fill="#fff" />
<rect x="166" y="30.5" width="1" height="4.5" fill="#fff" />
<rect x="169" y="30.5" width="1" height="4.5" fill="#fff" />
<rect x="172" y="30.5" width="1" height="4.5" fill="#fff" />
<rect x="175" y="30.5" width="1" height="4.5" fill="#fff" />
<rect x="178" y="30.5" width="1" height="4.5" fill="#fff" />
<rect x="181" y="30.5" width="1" height="4.5" fill="#fff" />
<rect x="184" y="30.5" width="1" height="4.5" fill="#fff" />
<rect x="187" y="30.5" width="1" height="4.5" fill="#fff" />
<rect x="190" y="30.5" width="1" height="4.5" fill="#fff" />
<rect x="193" y="30.5" width="1" height="4.5" fill="#fff" />
<rect x="196" y="30.5" width="1" height="4.5" fill="#fff" />
<rect x="200" y="30.5" width="1" height="4.5" fill="#fff" />
<rect x="203" y="30.5" width="1" height="4.5" fill="#fff" />
<rect x="206" y="30.5" width="1" height="4.5" fill="#fff" />
<rect x="209" y="30.5" width="1" height="4.5" fill="#fff" />
<rect x="212" y="30.5" width="1" height="4.5" fill="#fff" />
<rect x="215" y="30.5" width="1" height="4.5" fill="#fff" />
<rect x="218" y="30.5" width="1" height="4.5" fill="#fff" />
<rect x="221" y="30.5" width="1" height="4.5" fill="#fff" />
<rect x="224" y="30.5" width="1" height="4.5" fill="#fff" />
<rect x="227" y="30.5" width="1" height="4.5" fill="#fff" />
<rect x="230" y="30.5" width="1" height="4.5" fill="#fff" />
<rect x="233" y="30.5" width="1" height="4.5" fill="#fff" />
<rect x="236" y="30.5" width="1" height="4.5" fill="#fff" />
<rect x="239" y="30.5" width="1" height="4.5" fill="#fff" />
<rect x="242" y="30.5" width="1" height="4.5" fill="#fff" />
<rect x="245" y="30.5" width="1" height="4.5" fill="#fff" />
<rect x="248" y="30.5" width="1" height="4.5" fill="#fff" />
<rect x="251" y="30.5" width="1" height="4.5" fill="#fff" />
<rect x="254" y="30.5" width="1" height="4.5" fill="#fff" />
<rect x="257" y="30.5" width="1" height="4.5" fill="#fff" />
<rect x="260" y="30.5" width="1" height="4.5" fill="#fff" />
<rect x="263" y="30.5" width="1" height="4.5" fill="#fff" />
<rect x="266" y="30.5" width="1" height="4.5" fill="#fff" />
<rect x="269" y="30.5" width="1" height="4.5" fill="#fff" />
<rect x="272" y="30.5" width="1" height="4.5" fill="#fff" />
<rect x="275" y="30.5" width="1" height="4.5" fill="#fff" />
<rect x="278" y="30.5" width="1" height="4.5" fill="#fff" />
<rect x="281" y="30.5" width="1" height="4.5" fill="#fff" />
<rect x="284" y="30.5" width="1" height="4.5" fill="#fff" />
<rect x="287" y="30.5" width="1" height="4.5" fill="#fff" />
<rect x="290" y="30.5" width="1" height="4.5" fill="#fff" />
<rect x="293" y="30.5" width="1" height="4.5" fill="#fff" />
<rect x="296" y="30.5" width="1" height="4.5" fill="#fff" />
<rect x="299" y="30.5" width="1" height="4.5" fill="#fff" />
<rect x="302" y="30.5" width="1" height="4.5" fill="#fff" />
<rect x="305" y="30.5" width="1" height="4.5" fill="#fff" />
<rect x="308" y="30.5" width="1" height="4.5" fill="#fff" />
<rect x="311" y="30.5" width="1" height="4.5" fill="#fff" />
<rect x="314" y="30.5" width="1" height="4.5" fill="#fff" />
<rect x="317" y="30.5" width="1" height="4.5" fill="#fff" />
<rect x="320" y="30.5" width="1" height="4.5" fill="#fff" />
<rect x="323" y="30.5" width="1" height="4.5" fill="#fff" />
<rect x="326" y="30.5" width="1" height="4.5" fill="#fff" />
<rect x="329" y="30.5" width="1" height="4.5" fill="#fff" />
<rect x="332" y="30.5" width="1" height="4.5" fill="#fff" />
<rect x="335" y="30.5" width="1" height="4.5" fill="#fff" />
<rect x="338" y="30.5" width="1" height="4.5" fill="#fff" />
<rect x="341" y="30.5" width="1" height="4.5" fill="#fff" />
<rect x="344" y="30.5" width="1" height="4.5" fill="#fff" />
<rect x="347" y="30.5" width="1" height="4.5" fill="#fff" />
<path d="M355 29 H365 V40 H359 V36 H355 Z" fill="#000" />
<path d="M356.5 30.5 H363.8 V38.8 H360.5 V34.8 H356.5 Z" fill="#fff" />
<rect x="358" y="33.5" width="4" height="1" fill="#000" />
<rect x="365.5" y="27" width="3" height="15" fill="#000" />
<rect x="368.5" y="27.5" width="7" height="5" fill="#fff" stroke="#000" stroke-width="1"/>
<rect x="368.5" y="32.5" width="7" height="5" fill="#fff" stroke="#000" stroke-width="1"/>
<rect x="368.5" y="37.5" width="7" height="4" fill="#fff" stroke="#000" stroke-width="1"/>
<rect x="98.5" y="43.5" width="277" height="15" fill="#fff" stroke="#000" stroke-width="1"/>
<rect x="98.5" y="43.5" width="7" height="5" fill="#fff" stroke="#000" stroke-width="1"/>
<rect x="98.5" y="48.5" width="7" height="5" fill="#fff" stroke="#000" stroke-width="1"/>
<rect x="98.5" y="53.5" width="7" height="5" fill="#fff" stroke="#000" stroke-width="1"/>
<rect x="106" y="43" width="2.5" height="16" fill="#000" />
<path d="M110 45 H120 V57 H114 V53 H110 Z" fill="#000" />
<path d="M111.2 46.5 H118.8 V55.8 H115.5 V51.8 H111.2 Z" fill="#fff" />
<rect x="122" y="45" width="231" height="12" fill="#000" />
<rect x="124" y="46.5" width="1" height="4.5" fill="#fff" />
<rect x="127" y="46.5" width="1" height="4.5" fill="#fff" />
<rect x="130" y="46.5" width="1" height="4.5" fill="#fff" />
<rect x="133" y="46.5" width="1" height="4.5" fill="#fff" />
<rect x="136" y="46.5" width="1" height="4.5" fill="#fff" />
<rect x="139" y="46.5" width="1" height="4.5" fill="#fff" />
<rect x="142" y="46.5" width="1" height="4.5" fill="#fff" />
<rect x="145" y="46.5" width="1" height="4.5" fill="#fff" />
<rect x="148" y="46.5" width="1" height="4.5" fill="#fff" />
<rect x="151" y="46.5" width="1" height="4.5" fill="#fff" />
<rect x="154" y="46.5" width="1" height="4.5" fill="#fff" />
<rect x="157" y="46.5" width="1" height="4.5" fill="#fff" />
<rect x="160" y="46.5" width="1" height="4.5" fill="#fff" />
<rect x="163" y="46.5" width="1" height="4.5" fill="#fff" />
<rect x="166" y="46.5" width="1" height="4.5" fill="#fff" />
<rect x="169" y="46.5" width="1" height="4.5" fill="#fff" />
<rect x="172" y="46.5" width="1" height="4.5" fill="#fff" />
<rect x="175" y="46.5" width="1" height="4.5" fill="#fff" />
<rect x="178" y="46.5" width="1" height="4.5" fill="#fff" />
<rect x="181" y="46.5" width="1" height="4.5" fill="#fff" />
<rect x="184" y="46.5" width="1" height="4.5" fill="#fff" />
<rect x="187" y="46.5" width="1" height="4.5" fill="#fff" />
<rect x="190" y="46.5" width="1" height="4.5" fill="#fff" />
<rect x="193" y="46.5" width="1" height="4.5" fill="#fff" />
<rect x="196" y="46.5" width="1" height="4.5" fill="#fff" />
<rect x="200" y="46.5" width="1" height="4.5" fill="#fff" />
<rect x="203" y="46.5" width="1" height="4.5" fill="#fff" />
<rect x="206" y="46.5" width="1" height="4.5" fill="#fff" />
<rect x="209" y="46.5" width="1" height="4.5" fill="#fff" />
<rect x="212" y="46.5" width="1" height="4.5" fill="#fff" />
<rect x="215" y="46.5" width="1" height="4.5" fill="#fff" />
<rect x="218" y="46.5" width="1" height="4.5" fill="#fff" />
<rect x="221" y="46.5" width="1" height="4.5" fill="#fff" />
<rect x="224" y="46.5" width="1" height="4.5" fill="#fff" />
<rect x="227" y="46.5" width="1" height="4.5" fill="#fff" />
<rect x="230" y="46.5" width="1" height="4.5" fill="#fff" />
<rect x="233" y="46.5" width="1" height="4.5" fill="#fff" />
<rect x="236" y="46.5" width="1" height="4.5" fill="#fff" />
<rect x="239" y="46.5" width="1" height="4.5" fill="#fff" />
<rect x="242" y="46.5" width="1" height="4.5" fill="#fff" />
<rect x="245" y="46.5" width="1" height="4.5" fill="#fff" />
<rect x="248" y="46.5" width="1" height="4.5" fill="#fff" />
<rect x="251" y="46.5" width="1" height="4.5" fill="#fff" />
<rect x="254" y="46.5" width="1" height="4.5" fill="#fff" />
<rect x="257" y="46.5" width="1" height="4.5" fill="#fff" />
<rect x="260" y="46.5" width="1" height="4.5" fill="#fff" />
<rect x="263" y="46.5" width="1" height="4.5" fill="#fff" />
<rect x="266" y="46.5" width="1" height="4.5" fill="#fff" />
<rect x="269" y="46.5" width="1" height="4.5" fill="#fff" />
<rect x="272" y="46.5" width="1" height="4.5" fill="#fff" />
<rect x="275" y="46.5" width="1" height="4.5" fill="#fff" />
<rect x="278" y="46.5" width="1" height="4.5" fill="#fff" />
<rect x="281" y="46.5" width="1" height="4.5" fill="#fff" />
<rect x="284" y="46.5" width="1" height="4.5" fill="#fff" />
<rect x="287" y="46.5" width="1" height="4.5" fill="#fff" />
<rect x="290" y="46.5" width="1" height="4.5" fill="#fff" />
<rect x="293" y="46.5" width="1" height="4.5" fill="#fff" />
<rect x="296" y="46.5" width="1" height="4.5" fill="#fff" />
<rect x="299" y="46.5" width="1" height="4.5" fill="#fff" />
<rect x="302" y="46.5" width="1" height="4.5" fill="#fff" />
<rect x="305" y="46.5" width="1" height="4.5" fill="#fff" />
<rect x="308" y="46.5" width="1" height="4.5" fill="#fff" />
<rect x="311" y="46.5" width="1" height="4.5" fill="#fff" />
<rect x="314" y="46.5" width="1" height="4.5" fill="#fff" />
<rect x="317" y="46.5" width="1" height="4.5" fill="#fff" />
<rect x="320" y="46.5" width="1" height="4.5" fill="#fff" />
<rect x="323" y="46.5" width="1" height="4.5" fill="#fff" />
<rect x="326" y="46.5" width="1" height="4.5" fill="#fff" />
<rect x="329" y="46.5" width="1" height="4.5" fill="#fff" />
<rect x="332" y="46.5" width="1" height="4.5" fill="#fff" />
<rect x="335" y="46.5" width="1" height="4.5" fill="#fff" />
<rect x="338" y="46.5" width="1" height="4.5" fill="#fff" />
<rect x="341" y="46.5" width="1" height="4.5" fill="#fff" />
<rect x="344" y="46.5" width="1" height="4.5" fill="#fff" />
<rect x="347" y="46.5" width="1" height="4.5" fill="#fff" />
<path d="M355 45 H365 V57 H359 V53 H355 Z" fill="#000" />
<path d="M356.5 46.5 H363.8 V55.8 H360.5 V51.8 H356.5 Z" fill="#fff" />
<rect x="358" y="50.5" width="4" height="1" fill="#000" />
<rect x="365.5" y="43" width="3" height="16" fill="#000" />
<rect x="368.5" y="43.5" width="7" height="5" fill="#fff" stroke="#000" stroke-width="1"/>
<rect x="368.5" y="48.5" width="7" height="5" fill="#fff" stroke="#000" stroke-width="1"/>
<rect x="368.5" y="53.5" width="7" height="5" fill="#fff" stroke="#000" stroke-width="1"/>
<path d="M125.5 226 H184.5 V229.5 H188 V288.5 H184.5 V292 H125.5 V288.5 H122 V229.5 H125.5 Z" fill="#000" />
<rect x="130" y="226" width="1" height="2" fill="#fff" />
<rect x="132" y="290" width="1" height="2" fill="#fff" />
<rect x="133" y="226" width="1" height="2" fill="#fff" />
<rect x="135" y="290" width="1" height="2" fill="#fff" />
<rect x="136" y="226" width="1" height="2" fill="#fff" />
<rect x="138" y="290" width="1" height="2" fill="#fff" />
<rect x="146" y="226" width="1" height="2" fill="#fff" />
<rect x="148" y="290" width="1" height="2" fill="#fff" />
<rect x="149" y="226" width="1" height="2" fill="#fff" />
<rect x="151" y="290" width="1" height="2" fill="#fff" />
<rect x="152" y="226" width="1" height="2" fill="#fff" />
<rect x="154" y="290" width="1" height="2" fill="#fff" />
<rect x="162" y="226" width="1" height="2" fill="#fff" />
<rect x="164" y="290" width="1" height="2" fill="#fff" />
<rect x="165" y="226" width="1" height="2" fill="#fff" />
<rect x="167" y="290" width="1" height="2" fill="#fff" />
<rect x="168" y="226" width="1" height="2" fill="#fff" />
<rect x="170" y="290" width="1" height="2" fill="#fff" />
<rect x="176" y="226" width="1" height="2" fill="#fff" />
<rect x="178" y="290" width="1" height="2" fill="#fff" />
<rect x="179" y="226" width="1" height="2" fill="#fff" />
<rect x="181" y="290" width="1" height="2" fill="#fff" />
<rect x="182" y="226" width="1" height="2" fill="#fff" />
<rect x="184" y="290" width="1" height="2" fill="#fff" />
<rect x="185" y="233" width="3" height="1" fill="#fff" />
<rect x="122" y="241" width="3" height="1" fill="#fff" />
<rect x="185" y="236" width="3" height="1" fill="#fff" />
<rect x="122" y="244" width="3" height="1" fill="#fff" />
<rect x="185" y="239" width="3" height="1" fill="#fff" />
<rect x="122" y="247" width="3" height="1" fill="#fff" />
<rect x="185" y="248" width="3" height="1" fill="#fff" />
<rect x="122" y="256" width="3" height="1" fill="#fff" />
<rect x="185" y="251" width="3" height="1" fill="#fff" />
<rect x="122" y="259" width="3" height="1" fill="#fff" />
<rect x="185" y="254" width="3" height="1" fill="#fff" />
<rect x="122" y="262" width="3" height="1" fill="#fff" />
<rect x="185" y="264" width="3" height="1" fill="#fff" />
<rect x="122" y="272" width="3" height="1" fill="#fff" />
<rect x="185" y="267" width="3" height="1" fill="#fff" />
<rect x="122" y="275" width="3" height="1" fill="#fff" />
<rect x="185" y="270" width="3" height="1" fill="#fff" />
<rect x="122" y="278" width="3" height="1" fill="#fff" />
<rect x="185" y="279" width="3" height="1" fill="#fff" />
<rect x="122" y="287" width="3" height="1" fill="#fff" />
<rect x="185" y="282" width="3" height="1" fill="#fff" />
<rect x="122" y="290" width="3" height="1" fill="#fff" />
<rect x="185" y="285" width="3" height="1" fill="#fff" />
<rect x="122" y="293" width="3" height="1" fill="#fff" />
<circle cx="131.5" cy="235.5" r="2.3" fill="#fff" class="aa"/>
<path d="M269.5 174 H328.5 V177.5 H332 V235.5 H328.5 V239 H269.5 V235.5 H266 V177.5 H269.5 Z" fill="#000" />
<rect x="274" y="174" width="1" height="2" fill="#fff" />
<rect x="276" y="237" width="1" height="2" fill="#fff" />
<rect x="277" y="174" width="1" height="2" fill="#fff" />
<rect x="279" y="237" width="1" height="2" fill="#fff" />
<rect x="280" y="174" width="1" height="2" fill="#fff" />
<rect x="282" y="237" width="1" height="2" fill="#fff" />
<rect x="290" y="174" width="1" height="2" fill="#fff" />
<rect x="292" y="237" width="1" height="2" fill="#fff" />
<rect x="293" y="174" width="1" height="2" fill="#fff" />
<rect x="295" y="237" width="1" height="2" fill="#fff" />
<rect x="296" y="174" width="1" height="2" fill="#fff" />
<rect x="298" y="237" width="1" height="2" fill="#fff" />
<rect x="306" y="174" width="1" height="2" fill="#fff" />
<rect x="308" y="237" width="1" height="2" fill="#fff" />
<rect x="309" y="174" width="1" height="2" fill="#fff" />
<rect x="311" y="237" width="1" height="2" fill="#fff" />
<rect x="312" y="174" width="1" height="2" fill="#fff" />
<rect x="314" y="237" width="1" height="2" fill="#fff" />
<rect x="320" y="174" width="1" height="2" fill="#fff" />
<rect x="322" y="237" width="1" height="2" fill="#fff" />
<rect x="323" y="174" width="1" height="2" fill="#fff" />
<rect x="325" y="237" width="1" height="2" fill="#fff" />
<rect x="326" y="174" width="1" height="2" fill="#fff" />
<rect x="328" y="237" width="1" height="2" fill="#fff" />
<rect x="329" y="180" width="3" height="1" fill="#fff" />
<rect x="266" y="188" width="3" height="1" fill="#fff" />
<rect x="329" y="184" width="3" height="1" fill="#fff" />
<rect x="266" y="192" width="3" height="1" fill="#fff" />
<rect x="329" y="186" width="3" height="1" fill="#fff" />
<rect x="266" y="194" width="3" height="1" fill="#fff" />
<rect x="329" y="196" width="3" height="1" fill="#fff" />
<rect x="266" y="204" width="3" height="1" fill="#fff" />
<rect x="329" y="199" width="3" height="1" fill="#fff" />
<rect x="266" y="207" width="3" height="1" fill="#fff" />
<rect x="329" y="202" width="3" height="1" fill="#fff" />
<rect x="266" y="210" width="3" height="1" fill="#fff" />
<rect x="329" y="212" width="3" height="1" fill="#fff" />
<rect x="266" y="220" width="3" height="1" fill="#fff" />
<rect x="329" y="215" width="3" height="1" fill="#fff" />
<rect x="266" y="223" width="3" height="1" fill="#fff" />
<rect x="329" y="218" width="3" height="1" fill="#fff" />
<rect x="266" y="226" width="3" height="1" fill="#fff" />
<rect x="329" y="226" width="3" height="1" fill="#fff" />
<rect x="266" y="234" width="3" height="1" fill="#fff" />
<rect x="329" y="229" width="3" height="1" fill="#fff" />
<rect x="266" y="237" width="3" height="1" fill="#fff" />
<rect x="329" y="232" width="3" height="1" fill="#fff" />
<rect x="266" y="240" width="3" height="1" fill="#fff" />
<circle cx="275.5" cy="183" r="2.3" fill="#fff" class="aa"/>
<path d="M441.5 406 H500.5 V409.5 H504 V468.5 H500.5 V472 H441.5 V468.5 H438 V409.5 H441.5 Z" fill="#000" />
<rect x="446" y="406" width="1" height="2" fill="#fff" />
<rect x="448" y="470" width="1" height="2" fill="#fff" />
<rect x="449" y="406" width="1" height="2" fill="#fff" />
<rect x="451" y="470" width="1" height="2" fill="#fff" />
<rect x="452" y="406" width="1" height="2" fill="#fff" />
<rect x="454" y="470" width="1" height="2" fill="#fff" />
<rect x="462" y="406" width="1" height="2" fill="#fff" />
<rect x="464" y="470" width="1" height="2" fill="#fff" />
<rect x="465" y="406" width="1" height="2" fill="#fff" />
<rect x="467" y="470" width="1" height="2" fill="#fff" />
<rect x="468" y="406" width="1" height="2" fill="#fff" />
<rect x="470" y="470" width="1" height="2" fill="#fff" />
<rect x="478" y="406" width="1" height="2" fill="#fff" />
<rect x="480" y="470" width="1" height="2" fill="#fff" />
<rect x="481" y="406" width="1" height="2" fill="#fff" />
<rect x="483" y="470" width="1" height="2" fill="#fff" />
<rect x="484" y="406" width="1" height="2" fill="#fff" />
<rect x="486" y="470" width="1" height="2" fill="#fff" />
<rect x="492" y="406" width="1" height="2" fill="#fff" />
<rect x="494" y="470" width="1" height="2" fill="#fff" />
<rect x="495" y="406" width="1" height="2" fill="#fff" />
<rect x="497" y="470" width="1" height="2" fill="#fff" />
<rect x="498" y="406" width="1" height="2" fill="#fff" />
<rect x="500" y="470" width="1" height="2" fill="#fff" />
<rect x="501" y="413" width="3" height="1" fill="#fff" />
<rect x="438" y="421" width="3" height="1" fill="#fff" />
<rect x="501" y="416" width="3" height="1" fill="#fff" />
<rect x="438" y="424" width="3" height="1" fill="#fff" />
<rect x="501" y="419" width="3" height="1" fill="#fff" />
<rect x="438" y="427" width="3" height="1" fill="#fff" />
<rect x="501" y="428" width="3" height="1" fill="#fff" />
<rect x="438" y="436" width="3" height="1" fill="#fff" />
<rect x="501" y="431" width="3" height="1" fill="#fff" />
<rect x="438" y="439" width="3" height="1" fill="#fff" />
<rect x="501" y="434" width="3" height="1" fill="#fff" />
<rect x="438" y="442" width="3" height="1" fill="#fff" />
<rect x="501" y="444" width="3" height="1" fill="#fff" />
<rect x="438" y="452" width="3" height="1" fill="#fff" />
<rect x="501" y="447" width="3" height="1" fill="#fff" />
<rect x="438" y="455" width="3" height="1" fill="#fff" />
<rect x="501" y="450" width="3" height="1" fill="#fff" />
<rect x="438" y="458" width="3" height="1" fill="#fff" />
<rect x="501" y="459" width="3" height="1" fill="#fff" />
<rect x="438" y="467" width="3" height="1" fill="#fff" />
<rect x="501" y="462" width="3" height="1" fill="#fff" />
<rect x="438" y="470" width="3" height="1" fill="#fff" />
<rect x="501" y="465" width="3" height="1" fill="#fff" />
<rect x="438" y="473" width="3" height="1" fill="#fff" />
<rect x="446" y="460" width="4" height="4" fill="#fff" />
<path d="M261 254 H349 L352 257 V347 H261 Z" fill="#000" class="aa"/>
<rect x="264.10" y="258.00" width="2.6" height="2.6" rx="0.7" fill="#fff" class="aa"/>
<rect x="264.10" y="263.80" width="2.6" height="2.6" rx="0.7" fill="#fff" class="aa"/>
<rect x="264.10" y="269.60" width="2.6" height="2.6" rx="0.7" fill="#fff" class="aa"/>
<rect x="264.10" y="275.40" width="2.6" height="2.6" rx="0.7" fill="#fff" class="aa"/>
<rect x="264.10" y="281.20" width="2.6" height="2.6" rx="0.7" fill="#fff" class="aa"/>
<rect x="264.10" y="287.00" width="2.6" height="2.6" rx="0.7" fill="#fff" class="aa"/>
<rect x="264.10" y="292.80" width="2.6" height="2.6" rx="0.7" fill="#fff" class="aa"/>
<rect x="264.10" y="298.60" width="2.6" height="2.6" rx="0.7" fill="#fff" class="aa"/>
<rect x="264.10" y="304.40" width="2.6" height="2.6" rx="0.7" fill="#fff" class="aa"/>
<rect x="264.10" y="310.20" width="2.6" height="2.6" rx="0.7" fill="#fff" class="aa"/>
<rect x="264.10" y="316.00" width="2.6" height="2.6" rx="0.7" fill="#fff" class="aa"/>
<rect x="264.10" y="321.80" width="2.6" height="2.6" rx="0.7" fill="#fff" class="aa"/>
<rect x="264.10" y="327.60" width="2.6" height="2.6" rx="0.7" fill="#fff" class="aa"/>
<rect x="264.10" y="333.40" width="2.6" height="2.6" rx="0.7" fill="#fff" class="aa"/>
<rect x="264.10" y="339.20" width="2.6" height="2.6" rx="0.7" fill="#fff" class="aa"/>
<rect x="269.90" y="258.00" width="2.6" height="2.6" rx="0.7" fill="#fff" class="aa"/>
<rect x="269.90" y="263.80" width="2.6" height="2.6" rx="0.7" fill="#fff" class="aa"/>
<rect x="269.90" y="269.60" width="2.6" height="2.6" rx="0.7" fill="#fff" class="aa"/>
<rect x="269.90" y="275.40" width="2.6" height="2.6" rx="0.7" fill="#fff" class="aa"/>
<rect x="269.90" y="281.20" width="2.6" height="2.6" rx="0.7" fill="#fff" class="aa"/>
<rect x="269.90" y="287.00" width="2.6" height="2.6" rx="0.7" fill="#fff" class="aa"/>
<rect x="269.90" y="292.80" width="2.6" height="2.6" rx="0.7" fill="#fff" class="aa"/>
<rect x="269.90" y="298.60" width="2.6" height="2.6" rx="0.7" fill="#fff" class="aa"/>
<rect x="269.90" y="304.40" width="2.6" height="2.6" rx="0.7" fill="#fff" class="aa"/>
<rect x="269.90" y="310.20" width="2.6" height="2.6" rx="0.7" fill="#fff" class="aa"/>
<rect x="269.90" y="316.00" width="2.6" height="2.6" rx="0.7" fill="#fff" class="aa"/>
<rect x="269.90" y="321.80" width="2.6" height="2.6" rx="0.7" fill="#fff" class="aa"/>
<rect x="269.90" y="327.60" width="2.6" height="2.6" rx="0.7" fill="#fff" class="aa"/>
<rect x="269.90" y="333.40" width="2.6" height="2.6" rx="0.7" fill="#fff" class="aa"/>
<rect x="269.90" y="339.20" width="2.6" height="2.6" rx="0.7" fill="#fff" class="aa"/>
<rect x="275.70" y="258.00" width="2.6" height="2.6" rx="0.7" fill="#fff" class="aa"/>
<rect x="275.70" y="263.80" width="2.6" height="2.6" rx="0.7" fill="#fff" class="aa"/>
<rect x="275.70" y="269.60" width="2.6" height="2.6" rx="0.7" fill="#fff" class="aa"/>
<rect x="275.70" y="275.40" width="2.6" height="2.6" rx="0.7" fill="#fff" class="aa"/>
<rect x="275.70" y="281.20" width="2.6" height="2.6" rx="0.7" fill="#fff" class="aa"/>
<rect x="275.70" y="287.00" width="2.6" height="2.6" rx="0.7" fill="#fff" class="aa"/>
<rect x="275.70" y="292.80" width="2.6" height="2.6" rx="0.7" fill="#fff" class="aa"/>
<rect x="275.70" y="298.60" width="2.6" height="2.6" rx="0.7" fill="#fff" class="aa"/>
<rect x="275.70" y="304.40" width="2.6" height="2.6" rx="0.7" fill="#fff" class="aa"/>
<rect x="275.70" y="310.20" width="2.6" height="2.6" rx="0.7" fill="#fff" class="aa"/>
<rect x="275.70" y="316.00" width="2.6" height="2.6" rx="0.7" fill="#fff" class="aa"/>
<rect x="275.70" y="321.80" width="2.6" height="2.6" rx="0.7" fill="#fff" class="aa"/>
<rect x="275.70" y="327.60" width="2.6" height="2.6" rx="0.7" fill="#fff" class="aa"/>
<rect x="275.70" y="333.40" width="2.6" height="2.6" rx="0.7" fill="#fff" class="aa"/>
<rect x="275.70" y="339.20" width="2.6" height="2.6" rx="0.7" fill="#fff" class="aa"/>
<rect x="281.50" y="258.00" width="2.6" height="2.6" rx="0.7" fill="#fff" class="aa"/>
<rect x="281.50" y="263.80" width="2.6" height="2.6" rx="0.7" fill="#fff" class="aa"/>
<rect x="281.50" y="269.60" width="2.6" height="2.6" rx="0.7" fill="#fff" class="aa"/>
<rect x="281.50" y="327.60" width="2.6" height="2.6" rx="0.7" fill="#fff" class="aa"/>
<rect x="281.50" y="333.40" width="2.6" height="2.6" rx="0.7" fill="#fff" class="aa"/>
<rect x="281.50" y="339.20" width="2.6" height="2.6" rx="0.7" fill="#fff" class="aa"/>
<rect x="287.30" y="258.00" width="2.6" height="2.6" rx="0.7" fill="#fff" class="aa"/>
<rect x="287.30" y="263.80" width="2.6" height="2.6" rx="0.7" fill="#fff" class="aa"/>
<rect x="287.30" y="269.60" width="2.6" height="2.6" rx="0.7" fill="#fff" class="aa"/>
<rect x="287.30" y="327.60" width="2.6" height="2.6" rx="0.7" fill="#fff" class="aa"/>
<rect x="287.30" y="333.40" width="2.6" height="2.6" rx="0.7" fill="#fff" class="aa"/>
<rect x="287.30" y="339.20" width="2.6" height="2.6" rx="0.7" fill="#fff" class="aa"/>
<rect x="293.10" y="258.00" width="2.6" height="2.6" rx="0.7" fill="#fff" class="aa"/>
<rect x="293.10" y="263.80" width="2.6" height="2.6" rx="0.7" fill="#fff" class="aa"/>
<rect x="293.10" y="269.60" width="2.6" height="2.6" rx="0.7" fill="#fff" class="aa"/>
<rect x="293.10" y="327.60" width="2.6" height="2.6" rx="0.7" fill="#fff" class="aa"/>
<rect x="293.10" y="333.40" width="2.6" height="2.6" rx="0.7" fill="#fff" class="aa"/>
<rect x="293.10" y="339.20" width="2.6" height="2.6" rx="0.7" fill="#fff" class="aa"/>
<rect x="298.90" y="258.00" width="2.6" height="2.6" rx="0.7" fill="#fff" class="aa"/>
<rect x="298.90" y="263.80" width="2.6" height="2.6" rx="0.7" fill="#fff" class="aa"/>
<rect x="298.90" y="269.60" width="2.6" height="2.6" rx="0.7" fill="#fff" class="aa"/>
<rect x="298.90" y="327.60" width="2.6" height="2.6" rx="0.7" fill="#fff" class="aa"/>
<rect x="298.90" y="333.40" width="2.6" height="2.6" rx="0.7" fill="#fff" class="aa"/>
<rect x="298.90" y="339.20" width="2.6" height="2.6" rx="0.7" fill="#fff" class="aa"/>
<rect x="304.70" y="258.00" width="2.6" height="2.6" rx="0.7" fill="#fff" class="aa"/>
<rect x="304.70" y="263.80" width="2.6" height="2.6" rx="0.7" fill="#fff" class="aa"/>
<rect x="304.70" y="269.60" width="2.6" height="2.6" rx="0.7" fill="#fff" class="aa"/>
<rect x="304.70" y="327.60" width="2.6" height="2.6" rx="0.7" fill="#fff" class="aa"/>
<rect x="304.70" y="333.40" width="2.6" height="2.6" rx="0.7" fill="#fff" class="aa"/>
<rect x="304.70" y="339.20" width="2.6" height="2.6" rx="0.7" fill="#fff" class="aa"/>
<rect x="310.50" y="258.00" width="2.6" height="2.6" rx="0.7" fill="#fff" class="aa"/>
<rect x="310.50" y="263.80" width="2.6" height="2.6" rx="0.7" fill="#fff" class="aa"/>
<rect x="310.50" y="269.60" width="2.6" height="2.6" rx="0.7" fill="#fff" class="aa"/>
<rect x="310.50" y="327.60" width="2.6" height="2.6" rx="0.7" fill="#fff" class="aa"/>
<rect x="310.50" y="333.40" width="2.6" height="2.6" rx="0.7" fill="#fff" class="aa"/>
<rect x="310.50" y="339.20" width="2.6" height="2.6" rx="0.7" fill="#fff" class="aa"/>
<rect x="316.30" y="258.00" width="2.6" height="2.6" rx="0.7" fill="#fff" class="aa"/>
<rect x="316.30" y="263.80" width="2.6" height="2.6" rx="0.7" fill="#fff" class="aa"/>
<rect x="316.30" y="269.60" width="2.6" height="2.6" rx="0.7" fill="#fff" class="aa"/>
<rect x="316.30" y="327.60" width="2.6" height="2.6" rx="0.7" fill="#fff" class="aa"/>
<rect x="316.30" y="333.40" width="2.6" height="2.6" rx="0.7" fill="#fff" class="aa"/>
<rect x="316.30" y="339.20" width="2.6" height="2.6" rx="0.7" fill="#fff" class="aa"/>
<rect x="322.10" y="258.00" width="2.6" height="2.6" rx="0.7" fill="#fff" class="aa"/>
<rect x="322.10" y="263.80" width="2.6" height="2.6" rx="0.7" fill="#fff" class="aa"/>
<rect x="322.10" y="269.60" width="2.6" height="2.6" rx="0.7" fill="#fff" class="aa"/>
<rect x="322.10" y="327.60" width="2.6" height="2.6" rx="0.7" fill="#fff" class="aa"/>
<rect x="322.10" y="333.40" width="2.6" height="2.6" rx="0.7" fill="#fff" class="aa"/>
<rect x="322.10" y="339.20" width="2.6" height="2.6" rx="0.7" fill="#fff" class="aa"/>
<rect x="327.90" y="258.00" width="2.6" height="2.6" rx="0.7" fill="#fff" class="aa"/>
<rect x="327.90" y="263.80" width="2.6" height="2.6" rx="0.7" fill="#fff" class="aa"/>
<rect x="327.90" y="269.60" width="2.6" height="2.6" rx="0.7" fill="#fff" class="aa"/>
<rect x="327.90" y="327.60" width="2.6" height="2.6" rx="0.7" fill="#fff" class="aa"/>
<rect x="327.90" y="333.40" width="2.6" height="2.6" rx="0.7" fill="#fff" class="aa"/>
<rect x="327.90" y="339.20" width="2.6" height="2.6" rx="0.7" fill="#fff" class="aa"/>
<rect x="333.70" y="258.00" width="2.6" height="2.6" rx="0.7" fill="#fff" class="aa"/>
<rect x="333.70" y="263.80" width="2.6" height="2.6" rx="0.7" fill="#fff" class="aa"/>
<rect x="333.70" y="269.60" width="2.6" height="2.6" rx="0.7" fill="#fff" class="aa"/>
<rect x="333.70" y="275.40" width="2.6" height="2.6" rx="0.7" fill="#fff" class="aa"/>
<rect x="333.70" y="281.20" width="2.6" height="2.6" rx="0.7" fill="#fff" class="aa"/>
<rect x="333.70" y="287.00" width="2.6" height="2.6" rx="0.7" fill="#fff" class="aa"/>
<rect x="333.70" y="292.80" width="2.6" height="2.6" rx="0.7" fill="#fff" class="aa"/>
<rect x="333.70" y="298.60" width="2.6" height="2.6" rx="0.7" fill="#fff" class="aa"/>
<rect x="333.70" y="304.40" width="2.6" height="2.6" rx="0.7" fill="#fff" class="aa"/>
<rect x="333.70" y="310.20" width="2.6" height="2.6" rx="0.7" fill="#fff" class="aa"/>
<rect x="333.70" y="316.00" width="2.6" height="2.6" rx="0.7" fill="#fff" class="aa"/>
<rect x="333.70" y="321.80" width="2.6" height="2.6" rx="0.7" fill="#fff" class="aa"/>
<rect x="333.70" y="327.60" width="2.6" height="2.6" rx="0.7" fill="#fff" class="aa"/>
<rect x="333.70" y="333.40" width="2.6" height="2.6" rx="0.7" fill="#fff" class="aa"/>
<rect x="333.70" y="339.20" width="2.6" height="2.6" rx="0.7" fill="#fff" class="aa"/>
<rect x="339.50" y="258.00" width="2.6" height="2.6" rx="0.7" fill="#fff" class="aa"/>
<rect x="339.50" y="263.80" width="2.6" height="2.6" rx="0.7" fill="#fff" class="aa"/>
<rect x="339.50" y="269.60" width="2.6" height="2.6" rx="0.7" fill="#fff" class="aa"/>
<rect x="339.50" y="275.40" width="2.6" height="2.6" rx="0.7" fill="#fff" class="aa"/>
<rect x="339.50" y="281.20" width="2.6" height="2.6" rx="0.7" fill="#fff" class="aa"/>
<rect x="339.50" y="287.00" width="2.6" height="2.6" rx="0.7" fill="#fff" class="aa"/>
<rect x="339.50" y="292.80" width="2.6" height="2.6" rx="0.7" fill="#fff" class="aa"/>
<rect x="339.50" y="298.60" width="2.6" height="2.6" rx="0.7" fill="#fff" class="aa"/>
<rect x="339.50" y="304.40" width="2.6" height="2.6" rx="0.7" fill="#fff" class="aa"/>
<rect x="339.50" y="310.20" width="2.6" height="2.6" rx="0.7" fill="#fff" class="aa"/>
<rect x="339.50" y="316.00" width="2.6" height="2.6" rx="0.7" fill="#fff" class="aa"/>
<rect x="339.50" y="321.80" width="2.6" height="2.6" rx="0.7" fill="#fff" class="aa"/>
<rect x="339.50" y="327.60" width="2.6" height="2.6" rx="0.7" fill="#fff" class="aa"/>
<rect x="339.50" y="333.40" width="2.6" height="2.6" rx="0.7" fill="#fff" class="aa"/>
<rect x="339.50" y="339.20" width="2.6" height="2.6" rx="0.7" fill="#fff" class="aa"/>
<rect x="345.30" y="258.00" width="2.6" height="2.6" rx="0.7" fill="#fff" class="aa"/>
<rect x="345.30" y="263.80" width="2.6" height="2.6" rx="0.7" fill="#fff" class="aa"/>
<rect x="345.30" y="269.60" width="2.6" height="2.6" rx="0.7" fill="#fff" class="aa"/>
<rect x="345.30" y="275.40" width="2.6" height="2.6" rx="0.7" fill="#fff" class="aa"/>
<rect x="345.30" y="281.20" width="2.6" height="2.6" rx="0.7" fill="#fff" class="aa"/>
<rect x="345.30" y="287.00" width="2.6" height="2.6" rx="0.7" fill="#fff" class="aa"/>
<rect x="345.30" y="292.80" width="2.6" height="2.6" rx="0.7" fill="#fff" class="aa"/>
<rect x="345.30" y="298.60" width="2.6" height="2.6" rx="0.7" fill="#fff" class="aa"/>
<rect x="345.30" y="304.40" width="2.6" height="2.6" rx="0.7" fill="#fff" class="aa"/>
<rect x="345.30" y="310.20" width="2.6" height="2.6" rx="0.7" fill="#fff" class="aa"/>
<rect x="345.30" y="316.00" width="2.6" height="2.6" rx="0.7" fill="#fff" class="aa"/>
<rect x="345.30" y="321.80" width="2.6" height="2.6" rx="0.7" fill="#fff" class="aa"/>
<rect x="345.30" y="327.60" width="2.6" height="2.6" rx="0.7" fill="#fff" class="aa"/>
<rect x="345.30" y="333.40" width="2.6" height="2.6" rx="0.7" fill="#fff" class="aa"/>
<rect x="345.30" y="339.20" width="2.6" height="2.6" rx="0.7" fill="#fff" class="aa"/>
<rect x="280" y="274" width="53" height="53" fill="#000" />
<rect x="283.5" y="277" width="46" height="46" fill="#fff" />
<circle cx="324" cy="280.5" r="2.3" fill="#000" class="aa"/>
<rect x="290" y="290" width="33" height="19" rx="3.2" fill="#000" class="aa"/>
<rect x="292.4" y="291.7" width="28.8" height="14.9" rx="1.6" fill="#fff" class="aa"/>
<text transform="translate(307,304.9) scale(0.67,1)" font-size="14.5" letter-spacing="3.2" fill="#000" stroke="#000" stroke-width="0.2" text-anchor="middle" font-weight="normal">NPU</text>
<path d="M258 384 H356 L365 393 V491 H258 Z" fill="#000" class="aa"/>
<circle cx="353.7" cy="395" r="3.7" fill="#fff" class="aa"/>
<rect x="296" y="430" width="29" height="14" rx="2" fill="#fff" class="aa"/>
<text transform="translate(311.7,440.7) scale(0.67,1)" font-size="14.5" letter-spacing="3.2" fill="#000" stroke="#000" stroke-width="0.2" text-anchor="middle" font-weight="normal">CPU</text>
<rect x="17" y="246" width="84" height="24" fill="#000" />
<rect x="20" y="248" width="3.5" height="5" fill="#fff" />
<rect x="20" y="263" width="3.5" height="5" fill="#fff" />
<rect x="25.7462" y="248" width="3.5" height="5" fill="#fff" />
<rect x="25.7462" y="263" width="3.5" height="5" fill="#fff" />
<rect x="31.4923" y="248" width="3.5" height="5" fill="#fff" />
<rect x="31.4923" y="263" width="3.5" height="5" fill="#fff" />
<rect x="37.2385" y="248" width="3.5" height="5" fill="#fff" />
<rect x="37.2385" y="263" width="3.5" height="5" fill="#fff" />
<rect x="42.9846" y="248" width="3.5" height="5" fill="#fff" />
<rect x="42.9846" y="263" width="3.5" height="5" fill="#fff" />
<rect x="48.7308" y="248" width="3.5" height="5" fill="#fff" />
<rect x="48.7308" y="263" width="3.5" height="5" fill="#fff" />
<rect x="54.4769" y="248" width="3.5" height="5" fill="#fff" />
<rect x="54.4769" y="263" width="3.5" height="5" fill="#fff" />
<rect x="60.2231" y="248" width="3.5" height="5" fill="#fff" />
<rect x="60.2231" y="263" width="3.5" height="5" fill="#fff" />
<rect x="65.9692" y="248" width="3.5" height="5" fill="#fff" />
<rect x="65.9692" y="263" width="3.5" height="5" fill="#fff" />
<rect x="71.7154" y="248" width="3.5" height="5" fill="#fff" />
<rect x="71.7154" y="263" width="3.5" height="5" fill="#fff" />
<rect x="77.4615" y="248" width="3.5" height="5" fill="#fff" />
<rect x="77.4615" y="263" width="3.5" height="5" fill="#fff" />
<rect x="83.2077" y="248" width="3.5" height="5" fill="#fff" />
<rect x="83.2077" y="263" width="3.5" height="5" fill="#fff" />
<rect x="88.9538" y="248" width="3.5" height="5" fill="#fff" />
<rect x="88.9538" y="263" width="3.5" height="5" fill="#fff" />
<rect x="94.7" y="248" width="3.5" height="5" fill="#fff" />
<rect x="94.7" y="263" width="3.5" height="5" fill="#fff" />
<rect x="22.5" y="256" width="32.5" height="4" fill="#fff" />
<rect x="60" y="256" width="33" height="4" fill="#fff" />
<path d="M101 255.5 L98 257 V259 L101 260.5 Z" fill="#fff" class="aa"/>
<rect x="17" y="272" width="84" height="24" fill="#000" />
<rect x="20" y="274" width="3.5" height="5" fill="#fff" />
<rect x="20" y="289" width="3.5" height="5" fill="#fff" />
<rect x="25.7462" y="274" width="3.5" height="5" fill="#fff" />
<rect x="25.7462" y="289" width="3.5" height="5" fill="#fff" />
<rect x="31.4923" y="274" width="3.5" height="5" fill="#fff" />
<rect x="31.4923" y="289" width="3.5" height="5" fill="#fff" />
<rect x="37.2385" y="274" width="3.5" height="5" fill="#fff" />
<rect x="37.2385" y="289" width="3.5" height="5" fill="#fff" />
<rect x="42.9846" y="274" width="3.5" height="5" fill="#fff" />
<rect x="42.9846" y="289" width="3.5" height="5" fill="#fff" />
<rect x="48.7308" y="274" width="3.5" height="5" fill="#fff" />
<rect x="48.7308" y="289" width="3.5" height="5" fill="#fff" />
<rect x="54.4769" y="274" width="3.5" height="5" fill="#fff" />
<rect x="54.4769" y="289" width="3.5" height="5" fill="#fff" />
<rect x="60.2231" y="274" width="3.5" height="5" fill="#fff" />
<rect x="60.2231" y="289" width="3.5" height="5" fill="#fff" />
<rect x="65.9692" y="274" width="3.5" height="5" fill="#fff" />
<rect x="65.9692" y="289" width="3.5" height="5" fill="#fff" />
<rect x="71.7154" y="274" width="3.5" height="5" fill="#fff" />
<rect x="71.7154" y="289" width="3.5" height="5" fill="#fff" />
<rect x="77.4615" y="274" width="3.5" height="5" fill="#fff" />
<rect x="77.4615" y="289" width="3.5" height="5" fill="#fff" />
<rect x="83.2077" y="274" width="3.5" height="5" fill="#fff" />
<rect x="83.2077" y="289" width="3.5" height="5" fill="#fff" />
<rect x="88.9538" y="274" width="3.5" height="5" fill="#fff" />
<rect x="88.9538" y="289" width="3.5" height="5" fill="#fff" />
<rect x="94.7" y="274" width="3.5" height="5" fill="#fff" />
<rect x="94.7" y="289" width="3.5" height="5" fill="#fff" />
<rect x="22.5" y="282" width="32.5" height="4" fill="#fff" />
<rect x="60" y="282" width="33" height="4" fill="#fff" />
<path d="M101 281.5 L98 283 V285 L101 286.5 Z" fill="#fff" class="aa"/>
<rect x="17" y="298" width="84" height="24" fill="#000" />
<rect x="20" y="300" width="3.5" height="5" fill="#fff" />
<rect x="20" y="315" width="3.5" height="5" fill="#fff" />
<rect x="25.7462" y="300" width="3.5" height="5" fill="#fff" />
<rect x="25.7462" y="315" width="3.5" height="5" fill="#fff" />
<rect x="31.4923" y="300" width="3.5" height="5" fill="#fff" />
<rect x="31.4923" y="315" width="3.5" height="5" fill="#fff" />
<rect x="37.2385" y="300" width="3.5" height="5" fill="#fff" />
<rect x="37.2385" y="315" width="3.5" height="5" fill="#fff" />
<rect x="42.9846" y="300" width="3.5" height="5" fill="#fff" />
<rect x="42.9846" y="315" width="3.5" height="5" fill="#fff" />
<rect x="48.7308" y="300" width="3.5" height="5" fill="#fff" />
<rect x="48.7308" y="315" width="3.5" height="5" fill="#fff" />
<rect x="54.4769" y="300" width="3.5" height="5" fill="#fff" />
<rect x="54.4769" y="315" width="3.5" height="5" fill="#fff" />
<rect x="60.2231" y="300" width="3.5" height="5" fill="#fff" />
<rect x="60.2231" y="315" width="3.5" height="5" fill="#fff" />
<rect x="65.9692" y="300" width="3.5" height="5" fill="#fff" />
<rect x="65.9692" y="315" width="3.5" height="5" fill="#fff" />
<rect x="71.7154" y="300" width="3.5" height="5" fill="#fff" />
<rect x="71.7154" y="315" width="3.5" height="5" fill="#fff" />
<rect x="77.4615" y="300" width="3.5" height="5" fill="#fff" />
<rect x="77.4615" y="315" width="3.5" height="5" fill="#fff" />
<rect x="83.2077" y="300" width="3.5" height="5" fill="#fff" />
<rect x="83.2077" y="315" width="3.5" height="5" fill="#fff" />
<rect x="88.9538" y="300" width="3.5" height="5" fill="#fff" />
<rect x="88.9538" y="315" width="3.5" height="5" fill="#fff" />
<rect x="94.7" y="300" width="3.5" height="5" fill="#fff" />
<rect x="94.7" y="315" width="3.5" height="5" fill="#fff" />
<rect x="22.5" y="308" width="32.5" height="4" fill="#fff" />
<rect x="60" y="308" width="33" height="4" fill="#fff" />
<path d="M101 307.5 L98 309 V311 L101 312.5 Z" fill="#fff" class="aa"/>
<rect x="36" y="405" width="85" height="25" fill="#000" />
<rect x="39" y="407" width="3.5" height="5" fill="#fff" />
<rect x="39" y="423" width="3.5" height="5" fill="#fff" />
<rect x="44.8231" y="407" width="3.5" height="5" fill="#fff" />
<rect x="44.8231" y="423" width="3.5" height="5" fill="#fff" />
<rect x="50.6462" y="407" width="3.5" height="5" fill="#fff" />
<rect x="50.6462" y="423" width="3.5" height="5" fill="#fff" />
<rect x="56.4692" y="407" width="3.5" height="5" fill="#fff" />
<rect x="56.4692" y="423" width="3.5" height="5" fill="#fff" />
<rect x="62.2923" y="407" width="3.5" height="5" fill="#fff" />
<rect x="62.2923" y="423" width="3.5" height="5" fill="#fff" />
<rect x="68.1154" y="407" width="3.5" height="5" fill="#fff" />
<rect x="68.1154" y="423" width="3.5" height="5" fill="#fff" />
<rect x="73.9385" y="407" width="3.5" height="5" fill="#fff" />
<rect x="73.9385" y="423" width="3.5" height="5" fill="#fff" />
<rect x="79.7615" y="407" width="3.5" height="5" fill="#fff" />
<rect x="79.7615" y="423" width="3.5" height="5" fill="#fff" />
<rect x="85.5846" y="407" width="3.5" height="5" fill="#fff" />
<rect x="85.5846" y="423" width="3.5" height="5" fill="#fff" />
<rect x="91.4077" y="407" width="3.5" height="5" fill="#fff" />
<rect x="91.4077" y="423" width="3.5" height="5" fill="#fff" />
<rect x="97.2308" y="407" width="3.5" height="5" fill="#fff" />
<rect x="97.2308" y="423" width="3.5" height="5" fill="#fff" />
<rect x="103.054" y="407" width="3.5" height="5" fill="#fff" />
<rect x="103.054" y="423" width="3.5" height="5" fill="#fff" />
<rect x="108.877" y="407" width="3.5" height="5" fill="#fff" />
<rect x="108.877" y="423" width="3.5" height="5" fill="#fff" />
<rect x="114.7" y="407" width="3.5" height="5" fill="#fff" />
<rect x="114.7" y="423" width="3.5" height="5" fill="#fff" />
<rect x="41.5" y="415" width="32.5" height="5" fill="#fff" />
<rect x="79" y="415" width="34" height="5" fill="#fff" />
<path d="M121 414.5 L118 416 V419 L121 420.5 Z" fill="#fff" class="aa"/>
<rect x="124" y="405" width="85" height="25" fill="#000" />
<rect x="127" y="407" width="3.5" height="5" fill="#fff" />
<rect x="127" y="423" width="3.5" height="5" fill="#fff" />
<rect x="132.823" y="407" width="3.5" height="5" fill="#fff" />
<rect x="132.823" y="423" width="3.5" height="5" fill="#fff" />
<rect x="138.646" y="407" width="3.5" height="5" fill="#fff" />
<rect x="138.646" y="423" width="3.5" height="5" fill="#fff" />
<rect x="144.469" y="407" width="3.5" height="5" fill="#fff" />
<rect x="144.469" y="423" width="3.5" height="5" fill="#fff" />
<rect x="150.292" y="407" width="3.5" height="5" fill="#fff" />
<rect x="150.292" y="423" width="3.5" height="5" fill="#fff" />
<rect x="156.115" y="407" width="3.5" height="5" fill="#fff" />
<rect x="156.115" y="423" width="3.5" height="5" fill="#fff" />
<rect x="161.938" y="407" width="3.5" height="5" fill="#fff" />
<rect x="161.938" y="423" width="3.5" height="5" fill="#fff" />
<rect x="167.762" y="407" width="3.5" height="5" fill="#fff" />
<rect x="167.762" y="423" width="3.5" height="5" fill="#fff" />
<rect x="173.585" y="407" width="3.5" height="5" fill="#fff" />
<rect x="173.585" y="423" width="3.5" height="5" fill="#fff" />
<rect x="179.408" y="407" width="3.5" height="5" fill="#fff" />
<rect x="179.408" y="423" width="3.5" height="5" fill="#fff" />
<rect x="185.231" y="407" width="3.5" height="5" fill="#fff" />
<rect x="185.231" y="423" width="3.5" height="5" fill="#fff" />
<rect x="191.054" y="407" width="3.5" height="5" fill="#fff" />
<rect x="191.054" y="423" width="3.5" height="5" fill="#fff" />
<rect x="196.877" y="407" width="3.5" height="5" fill="#fff" />
<rect x="196.877" y="423" width="3.5" height="5" fill="#fff" />
<rect x="202.7" y="407" width="3.5" height="5" fill="#fff" />
<rect x="202.7" y="423" width="3.5" height="5" fill="#fff" />
<rect x="129.5" y="415" width="32.5" height="5" fill="#fff" />
<rect x="167" y="415" width="34" height="5" fill="#fff" />
<path d="M209 414.5 L206 416 V419 L209 420.5 Z" fill="#fff" class="aa"/>
<rect x="36" y="431" width="85" height="25" fill="#000" />
<rect x="39" y="433" width="3.5" height="5" fill="#fff" />
<rect x="39" y="449" width="3.5" height="5" fill="#fff" />
<rect x="44.8231" y="433" width="3.5" height="5" fill="#fff" />
<rect x="44.8231" y="449" width="3.5" height="5" fill="#fff" />
<rect x="50.6462" y="433" width="3.5" height="5" fill="#fff" />
<rect x="50.6462" y="449" width="3.5" height="5" fill="#fff" />
<rect x="56.4692" y="433" width="3.5" height="5" fill="#fff" />
<rect x="56.4692" y="449" width="3.5" height="5" fill="#fff" />
<rect x="62.2923" y="433" width="3.5" height="5" fill="#fff" />
<rect x="62.2923" y="449" width="3.5" height="5" fill="#fff" />
<rect x="68.1154" y="433" width="3.5" height="5" fill="#fff" />
<rect x="68.1154" y="449" width="3.5" height="5" fill="#fff" />
<rect x="73.9385" y="433" width="3.5" height="5" fill="#fff" />
<rect x="73.9385" y="449" width="3.5" height="5" fill="#fff" />
<rect x="79.7615" y="433" width="3.5" height="5" fill="#fff" />
<rect x="79.7615" y="449" width="3.5" height="5" fill="#fff" />
<rect x="85.5846" y="433" width="3.5" height="5" fill="#fff" />
<rect x="85.5846" y="449" width="3.5" height="5" fill="#fff" />
<rect x="91.4077" y="433" width="3.5" height="5" fill="#fff" />
<rect x="91.4077" y="449" width="3.5" height="5" fill="#fff" />
<rect x="97.2308" y="433" width="3.5" height="5" fill="#fff" />
<rect x="97.2308" y="449" width="3.5" height="5" fill="#fff" />
<rect x="103.054" y="433" width="3.5" height="5" fill="#fff" />
<rect x="103.054" y="449" width="3.5" height="5" fill="#fff" />
<rect x="108.877" y="433" width="3.5" height="5" fill="#fff" />
<rect x="108.877" y="449" width="3.5" height="5" fill="#fff" />
<rect x="114.7" y="433" width="3.5" height="5" fill="#fff" />
<rect x="114.7" y="449" width="3.5" height="5" fill="#fff" />
<rect x="41.5" y="441" width="32.5" height="5" fill="#fff" />
<rect x="79" y="441" width="34" height="5" fill="#fff" />
<path d="M121 440.5 L118 442 V445 L121 446.5 Z" fill="#fff" class="aa"/>
<rect x="124" y="431" width="85" height="25" fill="#000" />
<rect x="127" y="433" width="3.5" height="5" fill="#fff" />
<rect x="127" y="449" width="3.5" height="5" fill="#fff" />
<rect x="132.823" y="433" width="3.5" height="5" fill="#fff" />
<rect x="132.823" y="449" width="3.5" height="5" fill="#fff" />
<rect x="138.646" y="433" width="3.5" height="5" fill="#fff" />
<rect x="138.646" y="449" width="3.5" height="5" fill="#fff" />
<rect x="144.469" y="433" width="3.5" height="5" fill="#fff" />
<rect x="144.469" y="449" width="3.5" height="5" fill="#fff" />
<rect x="150.292" y="433" width="3.5" height="5" fill="#fff" />
<rect x="150.292" y="449" width="3.5" height="5" fill="#fff" />
<rect x="156.115" y="433" width="3.5" height="5" fill="#fff" />
<rect x="156.115" y="449" width="3.5" height="5" fill="#fff" />
<rect x="161.938" y="433" width="3.5" height="5" fill="#fff" />
<rect x="161.938" y="449" width="3.5" height="5" fill="#fff" />
<rect x="167.762" y="433" width="3.5" height="5" fill="#fff" />
<rect x="167.762" y="449" width="3.5" height="5" fill="#fff" />
<rect x="173.585" y="433" width="3.5" height="5" fill="#fff" />
<rect x="173.585" y="449" width="3.5" height="5" fill="#fff" />
<rect x="179.408" y="433" width="3.5" height="5" fill="#fff" />
<rect x="179.408" y="449" width="3.5" height="5" fill="#fff" />
<rect x="185.231" y="433" width="3.5" height="5" fill="#fff" />
<rect x="185.231" y="449" width="3.5" height="5" fill="#fff" />
<rect x="191.054" y="433" width="3.5" height="5" fill="#fff" />
<rect x="191.054" y="449" width="3.5" height="5" fill="#fff" />
<rect x="196.877" y="433" width="3.5" height="5" fill="#fff" />
<rect x="196.877" y="449" width="3.5" height="5" fill="#fff" />
<rect x="202.7" y="433" width="3.5" height="5" fill="#fff" />
<rect x="202.7" y="449" width="3.5" height="5" fill="#fff" />
<rect x="129.5" y="441" width="32.5" height="5" fill="#fff" />
<rect x="167" y="441" width="34" height="5" fill="#fff" />
<path d="M209 440.5 L206 442 V445 L209 446.5 Z" fill="#fff" class="aa"/>
<rect x="36" y="457.5" width="85" height="25" fill="#000" />
<rect x="39" y="459.5" width="3.5" height="5" fill="#fff" />
<rect x="39" y="475.5" width="3.5" height="5" fill="#fff" />
<rect x="44.8231" y="459.5" width="3.5" height="5" fill="#fff" />
<rect x="44.8231" y="475.5" width="3.5" height="5" fill="#fff" />
<rect x="50.6462" y="459.5" width="3.5" height="5" fill="#fff" />
<rect x="50.6462" y="475.5" width="3.5" height="5" fill="#fff" />
<rect x="56.4692" y="459.5" width="3.5" height="5" fill="#fff" />
<rect x="56.4692" y="475.5" width="3.5" height="5" fill="#fff" />
<rect x="62.2923" y="459.5" width="3.5" height="5" fill="#fff" />
<rect x="62.2923" y="475.5" width="3.5" height="5" fill="#fff" />
<rect x="68.1154" y="459.5" width="3.5" height="5" fill="#fff" />
<rect x="68.1154" y="475.5" width="3.5" height="5" fill="#fff" />
<rect x="73.9385" y="459.5" width="3.5" height="5" fill="#fff" />
<rect x="73.9385" y="475.5" width="3.5" height="5" fill="#fff" />
<rect x="79.7615" y="459.5" width="3.5" height="5" fill="#fff" />
<rect x="79.7615" y="475.5" width="3.5" height="5" fill="#fff" />
<rect x="85.5846" y="459.5" width="3.5" height="5" fill="#fff" />
<rect x="85.5846" y="475.5" width="3.5" height="5" fill="#fff" />
<rect x="91.4077" y="459.5" width="3.5" height="5" fill="#fff" />
<rect x="91.4077" y="475.5" width="3.5" height="5" fill="#fff" />
<rect x="97.2308" y="459.5" width="3.5" height="5" fill="#fff" />
<rect x="97.2308" y="475.5" width="3.5" height="5" fill="#fff" />
<rect x="103.054" y="459.5" width="3.5" height="5" fill="#fff" />
<rect x="103.054" y="475.5" width="3.5" height="5" fill="#fff" />
<rect x="108.877" y="459.5" width="3.5" height="5" fill="#fff" />
<rect x="108.877" y="475.5" width="3.5" height="5" fill="#fff" />
<rect x="114.7" y="459.5" width="3.5" height="5" fill="#fff" />
<rect x="114.7" y="475.5" width="3.5" height="5" fill="#fff" />
<rect x="41.5" y="467.5" width="32.5" height="5" fill="#fff" />
<rect x="79" y="467.5" width="34" height="5" fill="#fff" />
<path d="M121 467.0 L118 468.5 V471.5 L121 473.0 Z" fill="#fff" class="aa"/>
<rect x="124" y="457.5" width="85" height="25" fill="#000" />
<rect x="127" y="459.5" width="3.5" height="5" fill="#fff" />
<rect x="127" y="475.5" width="3.5" height="5" fill="#fff" />
<rect x="132.823" y="459.5" width="3.5" height="5" fill="#fff" />
<rect x="132.823" y="475.5" width="3.5" height="5" fill="#fff" />
<rect x="138.646" y="459.5" width="3.5" height="5" fill="#fff" />
<rect x="138.646" y="475.5" width="3.5" height="5" fill="#fff" />
<rect x="144.469" y="459.5" width="3.5" height="5" fill="#fff" />
<rect x="144.469" y="475.5" width="3.5" height="5" fill="#fff" />
<rect x="150.292" y="459.5" width="3.5" height="5" fill="#fff" />
<rect x="150.292" y="475.5" width="3.5" height="5" fill="#fff" />
<rect x="156.115" y="459.5" width="3.5" height="5" fill="#fff" />
<rect x="156.115" y="475.5" width="3.5" height="5" fill="#fff" />
<rect x="161.938" y="459.5" width="3.5" height="5" fill="#fff" />
<rect x="161.938" y="475.5" width="3.5" height="5" fill="#fff" />
<rect x="167.762" y="459.5" width="3.5" height="5" fill="#fff" />
<rect x="167.762" y="475.5" width="3.5" height="5" fill="#fff" />
<rect x="173.585" y="459.5" width="3.5" height="5" fill="#fff" />
<rect x="173.585" y="475.5" width="3.5" height="5" fill="#fff" />
<rect x="179.408" y="459.5" width="3.5" height="5" fill="#fff" />
<rect x="179.408" y="475.5" width="3.5" height="5" fill="#fff" />
<rect x="185.231" y="459.5" width="3.5" height="5" fill="#fff" />
<rect x="185.231" y="475.5" width="3.5" height="5" fill="#fff" />
<rect x="191.054" y="459.5" width="3.5" height="5" fill="#fff" />
<rect x="191.054" y="475.5" width="3.5" height="5" fill="#fff" />
<rect x="196.877" y="459.5" width="3.5" height="5" fill="#fff" />
<rect x="196.877" y="475.5" width="3.5" height="5" fill="#fff" />
<rect x="202.7" y="459.5" width="3.5" height="5" fill="#fff" />
<rect x="202.7" y="475.5" width="3.5" height="5" fill="#fff" />
<rect x="129.5" y="467.5" width="32.5" height="5" fill="#fff" />
<rect x="167" y="467.5" width="34" height="5" fill="#fff" />
<path d="M209 467.0 L206 468.5 V471.5 L209 473.0 Z" fill="#fff" class="aa"/>
<rect x="36" y="483.5" width="85" height="24" fill="#000" />
<rect x="39" y="485.5" width="3.5" height="5" fill="#fff" />
<rect x="39" y="500.5" width="3.5" height="5" fill="#fff" />
<rect x="44.8231" y="485.5" width="3.5" height="5" fill="#fff" />
<rect x="44.8231" y="500.5" width="3.5" height="5" fill="#fff" />
<rect x="50.6462" y="485.5" width="3.5" height="5" fill="#fff" />
<rect x="50.6462" y="500.5" width="3.5" height="5" fill="#fff" />
<rect x="56.4692" y="485.5" width="3.5" height="5" fill="#fff" />
<rect x="56.4692" y="500.5" width="3.5" height="5" fill="#fff" />
<rect x="62.2923" y="485.5" width="3.5" height="5" fill="#fff" />
<rect x="62.2923" y="500.5" width="3.5" height="5" fill="#fff" />
<rect x="68.1154" y="485.5" width="3.5" height="5" fill="#fff" />
<rect x="68.1154" y="500.5" width="3.5" height="5" fill="#fff" />
<rect x="73.9385" y="485.5" width="3.5" height="5" fill="#fff" />
<rect x="73.9385" y="500.5" width="3.5" height="5" fill="#fff" />
<rect x="79.7615" y="485.5" width="3.5" height="5" fill="#fff" />
<rect x="79.7615" y="500.5" width="3.5" height="5" fill="#fff" />
<rect x="85.5846" y="485.5" width="3.5" height="5" fill="#fff" />
<rect x="85.5846" y="500.5" width="3.5" height="5" fill="#fff" />
<rect x="91.4077" y="485.5" width="3.5" height="5" fill="#fff" />
<rect x="91.4077" y="500.5" width="3.5" height="5" fill="#fff" />
<rect x="97.2308" y="485.5" width="3.5" height="5" fill="#fff" />
<rect x="97.2308" y="500.5" width="3.5" height="5" fill="#fff" />
<rect x="103.054" y="485.5" width="3.5" height="5" fill="#fff" />
<rect x="103.054" y="500.5" width="3.5" height="5" fill="#fff" />
<rect x="108.877" y="485.5" width="3.5" height="5" fill="#fff" />
<rect x="108.877" y="500.5" width="3.5" height="5" fill="#fff" />
<rect x="114.7" y="485.5" width="3.5" height="5" fill="#fff" />
<rect x="114.7" y="500.5" width="3.5" height="5" fill="#fff" />
<rect x="41.5" y="493.5" width="32.5" height="4" fill="#fff" />
<rect x="79" y="493.5" width="34" height="4" fill="#fff" />
<path d="M121 493.0 L118 494.5 V496.5 L121 498.0 Z" fill="#fff" class="aa"/>
<rect x="124" y="483.5" width="85" height="24" fill="#000" />
<rect x="127" y="485.5" width="3.5" height="5" fill="#fff" />
<rect x="127" y="500.5" width="3.5" height="5" fill="#fff" />
<rect x="132.823" y="485.5" width="3.5" height="5" fill="#fff" />
<rect x="132.823" y="500.5" width="3.5" height="5" fill="#fff" />
<rect x="138.646" y="485.5" width="3.5" height="5" fill="#fff" />
<rect x="138.646" y="500.5" width="3.5" height="5" fill="#fff" />
<rect x="144.469" y="485.5" width="3.5" height="5" fill="#fff" />
<rect x="144.469" y="500.5" width="3.5" height="5" fill="#fff" />
<rect x="150.292" y="485.5" width="3.5" height="5" fill="#fff" />
<rect x="150.292" y="500.5" width="3.5" height="5" fill="#fff" />
<rect x="156.115" y="485.5" width="3.5" height="5" fill="#fff" />
<rect x="156.115" y="500.5" width="3.5" height="5" fill="#fff" />
<rect x="161.938" y="485.5" width="3.5" height="5" fill="#fff" />
<rect x="161.938" y="500.5" width="3.5" height="5" fill="#fff" />
<rect x="167.762" y="485.5" width="3.5" height="5" fill="#fff" />
<rect x="167.762" y="500.5" width="3.5" height="5" fill="#fff" />
<rect x="173.585" y="485.5" width="3.5" height="5" fill="#fff" />
<rect x="173.585" y="500.5" width="3.5" height="5" fill="#fff" />
<rect x="179.408" y="485.5" width="3.5" height="5" fill="#fff" />
<rect x="179.408" y="500.5" width="3.5" height="5" fill="#fff" />
<rect x="185.231" y="485.5" width="3.5" height="5" fill="#fff" />
<rect x="185.231" y="500.5" width="3.5" height="5" fill="#fff" />
<rect x="191.054" y="485.5" width="3.5" height="5" fill="#fff" />
<rect x="191.054" y="500.5" width="3.5" height="5" fill="#fff" />
<rect x="196.877" y="485.5" width="3.5" height="5" fill="#fff" />
<rect x="196.877" y="500.5" width="3.5" height="5" fill="#fff" />
<rect x="202.7" y="485.5" width="3.5" height="5" fill="#fff" />
<rect x="202.7" y="500.5" width="3.5" height="5" fill="#fff" />
<rect x="129.5" y="493.5" width="32.5" height="4" fill="#fff" />
<rect x="167" y="493.5" width="34" height="4" fill="#fff" />
<path d="M209 493.0 L206 494.5 V496.5 L209 498.0 Z" fill="#fff" class="aa"/>
<rect x="50" y="448" width="57.5" height="16" fill="#000" />
<rect x="51" y="449" width="55.5" height="14" fill="#fff" />
<text transform="translate(79.25,460.7) scale(0.67,1)" font-size="14.5" letter-spacing="3.2" fill="#000" stroke="#000" stroke-width="0.2" text-anchor="middle" font-weight="normal">BANK 0</text>
<rect x="138" y="448" width="56" height="16" fill="#000" />
<rect x="139" y="449" width="54" height="14" fill="#fff" />
<text transform="translate(166.5,460.7) scale(0.67,1)" font-size="14.5" letter-spacing="3.2" fill="#000" stroke="#000" stroke-width="0.2" text-anchor="middle" font-weight="normal">BANK 1</text>
<rect x="554" y="359" width="88" height="41" fill="#000" />
<rect x="640" y="374" width="2" height="12" fill="#fff" />
<rect x="640" y="360.5" width="1" height="6" fill="#fff" />
<rect x="578" y="372" width="40" height="15.5" rx="2" fill="#fff" class="aa"/>
<text transform="translate(599.2,384.2) scale(0.67,1)" font-size="14.5" letter-spacing="3.2" fill="#000" stroke="#000" stroke-width="0.2" text-anchor="middle" font-weight="normal">BIOS</text>
<rect x="554" y="409" width="127" height="43" fill="#000" />
<rect x="678.5" y="424.5" width="2.5" height="12" fill="#fff" />
<path d="M556.5 411.5 H680" stroke="#fff" stroke-width="1" stroke-dasharray="3.2 1.8" fill="none"/>
<rect x="603" y="423" width="28" height="15" rx="2" fill="#fff" class="aa"/>
<text transform="translate(618.2,434.7) scale(0.67,1)" font-size="14.5" letter-spacing="3.2" fill="#000" stroke="#000" stroke-width="0.2" text-anchor="middle" font-weight="normal">KBD</text>
<rect x="33" y="31" width="7" height="14" fill="#000" />
<rect x="34" y="32" width="5" height="1" fill="#fff" />
<rect x="34" y="38" width="5" height="1" fill="#fff" />
<rect x="34" y="42" width="5" height="1" fill="#fff" />
<rect x="45" y="31" width="6" height="14" fill="#000" />
<rect x="46" y="32" width="4" height="1" fill="#fff" />
<rect x="46" y="38" width="4" height="1" fill="#fff" />
<rect x="46" y="42" width="4" height="1" fill="#fff" />
<rect x="56" y="31" width="7" height="14" fill="#000" />
<rect x="57" y="32" width="5" height="1" fill="#fff" />
<rect x="57" y="38" width="5" height="1" fill="#fff" />
<rect x="57" y="42" width="5" height="1" fill="#fff" />
<rect x="69" y="19" width="6" height="26" fill="#000" />
<rect x="70" y="20.5" width="4" height="4" fill="#fff" />
<rect x="71.5" y="22" width="1" height="1.5" fill="#000" />
<rect x="70" y="27" width="4" height="1.2" fill="#fff" />
<rect x="70" y="32" width="4" height="1.2" fill="#fff" />
<rect x="70" y="37" width="4" height="1.2" fill="#fff" />
<rect x="70" y="42" width="4" height="1.2" fill="#fff" />
<rect x="80.5" y="14.5" width="6" height="30" fill="#fff" stroke="#000" stroke-width="1"/>
<rect x="80.5" y="15" width="4.5" height="29.5" fill="#000" />
<rect x="82" y="16.5" width="2.5" height="3.5" fill="#fff" />
<rect x="83" y="17.5" width="1" height="1.5" fill="#000" />
<rect x="81" y="21" width="4" height="1" fill="#fff" />
<rect x="81" y="26" width="4" height="1" fill="#fff" />
<rect x="81" y="31.5" width="4" height="1" fill="#fff" />
<rect x="81" y="36.5" width="4" height="1" fill="#fff" />
<rect x="81" y="42" width="4" height="1" fill="#fff" />
<rect x="759.5" y="347.5" width="13" height="12" fill="#fff" stroke="#000" stroke-width="1"/>
<rect x="761" y="348" width="4" height="4.3" fill="#000" />
<rect x="767" y="348" width="4" height="4.3" fill="#000" />
<rect x="761" y="354" width="4" height="4" fill="#000" />
<rect x="767" y="354" width="4" height="4" fill="#000" />
<rect x="768.2" y="355.2" width="1.6" height="1.6" fill="#fff" />
<rect x="751.5" y="388" width="7.5" height="31" fill="#000" />
<rect x="753" y="389" width="4.5" height="3.2" fill="#fff" />
<rect x="754.5" y="390" width="1.5" height="1.2" fill="#000" />
<rect x="753" y="394" width="4.5" height="1.2" fill="#fff" />
<rect x="753" y="398.5" width="4.5" height="1.2" fill="#fff" />
<rect x="753" y="403" width="4.5" height="1.2" fill="#fff" />
<rect x="753" y="407.5" width="4.5" height="1.2" fill="#fff" />
<rect x="753" y="412" width="4.5" height="1.2" fill="#fff" />
<rect x="771.5" y="388.5" width="6" height="25" fill="#fff" stroke="#000" stroke-width="1"/>
<rect x="773.5" y="390.5" width="2" height="2.5" fill="#fff" stroke="#000" stroke-width="1"/>
<rect x="773" y="395.5" width="3" height="4" fill="#000" />
<rect x="773" y="401" width="3" height="4" fill="#000" />
<rect x="773" y="406.5" width="3" height="4.5" fill="#000" />
<path d="M756 428 H780 V424 H782.5 V420.7 H785 V471.5 H782.5 V468.5 H780 V464.5 H756 Z" fill="#000" />
<rect x="754" y="443.5" width="2" height="5.5" fill="#fff" stroke="#000" stroke-width="1"/>
<rect x="750" y="437.5" width="6" height="6.5" fill="#fff" stroke="#000" stroke-width="1"/>
<rect x="750" y="448.5" width="6" height="8" fill="#fff" stroke="#000" stroke-width="1"/>
<rect x="754.5" y="439" width="1.5" height="1" fill="#000" />
<rect x="754.5" y="441" width="1.5" height="1" fill="#000" />
<rect x="754.5" y="450" width="1.5" height="1" fill="#000" />
<rect x="754.5" y="452" width="1.5" height="1" fill="#000" />
<rect x="754.5" y="454" width="1.5" height="1" fill="#000" />
<rect x="623.5" y="494.5" width="112.5" height="23" fill="#fff" stroke="#000" stroke-width="1"/>
<rect x="623" y="509.3" width="113" height="1" fill="#000" />
<rect x="629.5" y="497.5" width="6" height="6" fill="#fff" stroke="#000" stroke-width="1"/>
<rect x="626" y="505" width="6" height="2.7" fill="#000" />
<rect x="627" y="506" width="1" height="1" fill="#fff" />
<rect x="628.7" y="506" width="1" height="1" fill="#fff" />
<rect x="630.3" y="506" width="1" height="1" fill="#fff" />
<rect x="626" y="512" width="6.5" height="1.6" fill="#000" />
<rect x="628" y="511" width="2.5" height="3.8" fill="#000" />
<rect x="638.5" y="497.5" width="6" height="6" fill="#fff" stroke="#000" stroke-width="1"/>
<rect x="635" y="505" width="6" height="2.7" fill="#000" />
<rect x="636" y="506" width="1" height="1" fill="#fff" />
<rect x="637.7" y="506" width="1" height="1" fill="#fff" />
<rect x="639.3" y="506" width="1" height="1" fill="#fff" />
<rect x="635" y="512" width="6.5" height="1.6" fill="#000" />
<rect x="637" y="511" width="2.5" height="3.8" fill="#000" />
<rect x="648.5" y="497.5" width="6" height="6" fill="#fff" stroke="#000" stroke-width="1"/>
<rect x="644" y="505" width="6" height="2.7" fill="#000" />
<rect x="645" y="506" width="1" height="1" fill="#fff" />
<rect x="646.7" y="506" width="1" height="1" fill="#fff" />
<rect x="648.3" y="506" width="1" height="1" fill="#fff" />
<rect x="644" y="512" width="6.5" height="1.6" fill="#000" />
<rect x="646" y="511" width="2.5" height="3.8" fill="#000" />
<rect x="657.5" y="497.5" width="6" height="6" fill="#fff" stroke="#000" stroke-width="1"/>
<rect x="653" y="505" width="6" height="2.7" fill="#000" />
<rect x="654" y="506" width="1" height="1" fill="#fff" />
<rect x="655.7" y="506" width="1" height="1" fill="#fff" />
<rect x="657.3" y="506" width="1" height="1" fill="#fff" />
<rect x="653" y="512" width="6.5" height="1.6" fill="#000" />
<rect x="655" y="511" width="2.5" height="3.8" fill="#000" />
<rect x="666.5" y="497.5" width="6" height="6" fill="#fff" stroke="#000" stroke-width="1"/>
<rect x="663" y="505" width="6" height="2.7" fill="#000" />
<rect x="664" y="506" width="1" height="1" fill="#fff" />
<rect x="665.7" y="506" width="1" height="1" fill="#fff" />
<rect x="667.3" y="506" width="1" height="1" fill="#fff" />
<rect x="663" y="512" width="6.5" height="1.6" fill="#000" />
<rect x="665" y="511" width="2.5" height="3.8" fill="#000" />
<rect x="676.5" y="497.5" width="6" height="6" fill="#fff" stroke="#000" stroke-width="1"/>
<rect x="672" y="505" width="6" height="2.7" fill="#000" />
<rect x="673" y="506" width="1" height="1" fill="#fff" />
<rect x="674.7" y="506" width="1" height="1" fill="#fff" />
<rect x="676.3" y="506" width="1" height="1" fill="#fff" />
<rect x="672" y="512" width="6.5" height="1.6" fill="#000" />
<rect x="674" y="511" width="2.5" height="3.8" fill="#000" />
<rect x="685.5" y="497.5" width="6" height="6" fill="#fff" stroke="#000" stroke-width="1"/>
<rect x="681" y="505" width="6" height="2.7" fill="#000" />
<rect x="682" y="506" width="1" height="1" fill="#fff" />
<rect x="683.7" y="506" width="1" height="1" fill="#fff" />
<rect x="685.3" y="506" width="1" height="1" fill="#fff" />
<rect x="681" y="512" width="6.5" height="1.6" fill="#000" />
<rect x="683" y="511" width="2.5" height="3.8" fill="#000" />
<rect x="694.5" y="497.5" width="6" height="6" fill="#fff" stroke="#000" stroke-width="1"/>
<rect x="690" y="505" width="6" height="2.7" fill="#000" />
<rect x="691" y="506" width="1" height="1" fill="#fff" />
<rect x="692.7" y="506" width="1" height="1" fill="#fff" />
<rect x="694.3" y="506" width="1" height="1" fill="#fff" />
<rect x="690" y="512" width="6.5" height="1.6" fill="#000" />
<rect x="692" y="511" width="2.5" height="3.8" fill="#000" />
<rect x="703.5" y="497.5" width="6" height="6" fill="#fff" stroke="#000" stroke-width="1"/>
<rect x="700" y="505" width="6" height="2.7" fill="#000" />
<rect x="701" y="506" width="1" height="1" fill="#fff" />
<rect x="702.7" y="506" width="1" height="1" fill="#fff" />
<rect x="704.3" y="506" width="1" height="1" fill="#fff" />
<rect x="700" y="512" width="6.5" height="1.6" fill="#000" />
<rect x="702" y="511" width="2.5" height="3.8" fill="#000" />
<rect x="713.5" y="497.5" width="6" height="6" fill="#fff" stroke="#000" stroke-width="1"/>
<rect x="709" y="505" width="6" height="2.7" fill="#000" />
<rect x="710" y="506" width="1" height="1" fill="#fff" />
<rect x="711.7" y="506" width="1" height="1" fill="#fff" />
<rect x="713.3" y="506" width="1" height="1" fill="#fff" />
<rect x="709" y="512" width="6.5" height="1.6" fill="#000" />
<rect x="711" y="511" width="2.5" height="3.8" fill="#000" />
<rect x="722.5" y="497.5" width="6" height="6" fill="#fff" stroke="#000" stroke-width="1"/>
<rect x="718" y="505" width="6" height="2.7" fill="#000" />
<rect x="719" y="506" width="1" height="1" fill="#fff" />
<rect x="720.7" y="506" width="1" height="1" fill="#fff" />
<rect x="722.3" y="506" width="1" height="1" fill="#fff" />
<rect x="718" y="512" width="6.5" height="1.6" fill="#000" />
<rect x="720" y="511" width="2.5" height="3.8" fill="#000" />
<rect x="730.5" y="497.5" width="3" height="6" fill="#fff" stroke="#000" stroke-width="1"/>
<rect x="727" y="505" width="6" height="2.7" fill="#000" />
<rect x="728" y="506" width="1" height="1" fill="#fff" />
<rect x="729.7" y="506" width="1" height="1" fill="#fff" />
<rect x="731.3" y="506" width="1" height="1" fill="#fff" />
<rect x="727" y="512" width="6.5" height="1.6" fill="#000" />
<rect x="729" y="511" width="2.5" height="3.8" fill="#000" />
<rect x="623" y="498.5" width="2.5" height="1" fill="#000" />
<rect x="623" y="502" width="2.5" height="1" fill="#000" />
<rect x="625" y="499" width="1" height="3.5" fill="#000" />
<rect x="734" y="498.5" width="2.5" height="1" fill="#000" />
<rect x="734" y="502" width="2.5" height="1" fill="#000" />
<rect x="734" y="499" width="1" height="3.5" fill="#000" />
<rect x="227" y="243" width="20" height="6" fill="#000" />
<rect x="228" y="244" width="1" height="4" fill="#fff" />
<rect x="234" y="244" width="1" height="4" fill="#fff" />
<rect x="239.3" y="244" width="1.6" height="4" fill="#fff" />
<rect x="245" y="244" width="1" height="4" fill="#fff" />
<rect x="199" y="259" width="19" height="7" fill="#000" />
<rect x="200" y="260" width="17" height="1" fill="#fff" />
<rect x="205" y="260" width="1" height="5" fill="#fff" />
<rect x="211" y="260" width="1" height="5" fill="#fff" />
<rect x="216.5" y="260" width="1" height="5" fill="#fff" />
<rect x="37" y="329.5" width="13.5" height="6.5" fill="#000" />
<rect x="38.5" y="330.5" width="1.5" height="4.5" fill="#fff" />
<rect x="43" y="330.5" width="1.5" height="4.5" fill="#fff" />
<rect x="46.5" y="330.5" width="1" height="4.5" fill="#fff" />
<rect x="91" y="377" width="13" height="6.5" fill="#000" />
<rect x="92.5" y="378" width="1.5" height="4.5" fill="#fff" />
<rect x="95.5" y="378" width="1.2" height="4.5" fill="#fff" />
<rect x="91" y="386" width="13" height="6.5" fill="#000" />
<rect x="92" y="387" width="11" height="1" fill="#fff" />
<rect x="92" y="387" width="1" height="4.5" fill="#fff" />
<rect x="97" y="387" width="1" height="4.5" fill="#fff" />
<rect x="217" y="422" width="20" height="6.5" fill="#000" />
<rect x="218.5" y="423" width="1.3" height="4.5" fill="#fff" />
<rect x="223.5" y="423" width="1.3" height="4.5" fill="#fff" />
<rect x="229" y="423" width="1.6" height="4.5" fill="#fff" />
<rect x="234.5" y="423" width="1.3" height="4.5" fill="#fff" />
<rect x="377" y="451" width="6" height="19" fill="#000" />
<rect x="378.5" y="452.5" width="3" height="4" fill="#fff" />
<rect x="379.5" y="454" width="1" height="1.5" fill="#000" />
<rect x="378" y="457.7" width="4" height="1" fill="#fff" />
<rect x="378" y="463" width="4" height="1.2" fill="#fff" />
<rect x="377" y="483" width="6" height="14" fill="#000" />
<rect x="378" y="484.3" width="4" height="1" fill="#fff" />
<rect x="378" y="488.8" width="4" height="2.5" fill="#fff" />
<rect x="378" y="495" width="4" height="1" fill="#fff" />
<rect x="344" y="504" width="19" height="7" fill="#000" />
<rect x="345" y="505" width="17" height="1" fill="#fff" />
<rect x="345" y="505" width="1" height="5" fill="#fff" />
<rect x="351" y="505" width="1" height="5" fill="#fff" />
<rect x="357" y="505" width="1" height="5" fill="#fff" />
<rect x="532" y="442" width="7" height="13" fill="#000" />
<rect x="537" y="443.5" width="1" height="10" fill="#fff" />
<rect x="533.5" y="449" width="4" height="1" fill="#fff" />
<rect x="533.5" y="453" width="4.5" height="1" fill="#fff" />
<rect x="515" y="461" width="14" height="7" fill="#000" />
<rect x="516" y="462" width="1" height="5" fill="#fff" />
<rect x="521.2" y="462" width="1" height="5" fill="#fff" />
<rect x="527" y="462" width="1" height="5" fill="#fff" />
<rect x="515" y="471" width="14" height="6" fill="#000" />
<rect x="516" y="472" width="1" height="4" fill="#fff" />
<rect x="521.2" y="472" width="1" height="4" fill="#fff" />
<rect x="527" y="472" width="1" height="4" fill="#fff" />
<rect x="606" y="459" width="14" height="7" fill="#000" />
<rect x="607.3" y="460" width="1" height="5" fill="#fff" />
<rect x="612" y="460" width="1" height="5" fill="#fff" />
<rect x="618" y="460" width="1" height="5" fill="#fff" />
<rect x="758" y="487.5" width="12.5" height="6" fill="#000" />
<rect x="764.5" y="488.5" width="1.5" height="4" fill="#fff" />
<rect x="768" y="488.5" width="1.5" height="4" fill="#fff" />
<path d="M37.70 21.44 L46.8559 28.7351 L41.30 18.56 Z" fill="#fff" stroke="#000" stroke-width="2.1" stroke-linejoin="miter" class="aa"/>
<rect x="10" y="6" width="33" height="18" rx="3.2" fill="#000" class="aa"/>
<rect x="12.4" y="7.7" width="28.8" height="13.9" rx="1.6" fill="#fff" class="aa"/>
<text transform="translate(27,19.9) scale(0.67,1)" font-size="14.5" letter-spacing="3.2" fill="#000" stroke="#000" stroke-width="0.2" text-anchor="middle" font-weight="normal">SW2</text>
<path d="M25.84 64.00 L35.1061 47.4191 L30.16 64.00 Z" fill="#fff" stroke="#000" stroke-width="2.1" stroke-linejoin="miter" class="aa"/>
<rect x="7" y="62.5" width="37.5" height="18" rx="3.2" fill="#000" class="aa"/>
<rect x="9.4" y="64.2" width="33.3" height="13.9" rx="1.6" fill="#fff" class="aa"/>
<text transform="translate(26.25,76.4) scale(0.67,1)" font-size="14.5" letter-spacing="3.2" fill="#000" stroke="#000" stroke-width="0.2" text-anchor="middle" font-weight="normal">JP11</text>
<path d="M63.84 64.00 L59.8396 46.9406 L68.16 64.00 Z" fill="#fff" stroke="#000" stroke-width="2.1" stroke-linejoin="miter" class="aa"/>
<rect x="51" y="62.5" width="34" height="18.5" rx="3.2" fill="#000" class="aa"/>
<rect x="53.4" y="64.2" width="29.8" height="14.4" rx="1.6" fill="#fff" class="aa"/>
<text transform="translate(68.5,76.9) scale(0.67,1)" font-size="14.5" letter-spacing="3.2" fill="#000" stroke="#000" stroke-width="0.2" text-anchor="middle" font-weight="normal">SW1</text>
<path d="M87.05 57.80 L72.8393 45.0437 L92.45 54.20 Z" fill="#fff" stroke="#000" stroke-width="2.1" stroke-linejoin="miter" class="aa"/>
<rect x="84.5" y="52.5" width="35" height="17.5" rx="3.2" fill="#000" class="aa"/>
<rect x="86.9" y="54.2" width="30.8" height="13.4" rx="1.6" fill="#fff" class="aa"/>
<text transform="translate(102.5,65.9) scale(0.67,1)" font-size="14.5" letter-spacing="3.2" fill="#000" stroke="#000" stroke-width="0.2" text-anchor="middle" font-weight="normal">J21</text>
<path d="M103.50 25.34 L88.9995 27.9678 L103.50 29.66 Z" fill="#fff" stroke="#000" stroke-width="2.1" stroke-linejoin="miter" class="aa"/>
<rect x="102" y="19" width="36.5" height="17.5" rx="3.2" fill="#000" class="aa"/>
<rect x="104.4" y="20.7" width="32.3" height="13.4" rx="1.6" fill="#fff" class="aa"/>
<text transform="translate(120.75,32.4) scale(0.67,1)" font-size="14.5" letter-spacing="3.2" fill="#000" stroke="#000" stroke-width="0.2" text-anchor="middle" font-weight="normal">J20</text>
<rect x="208.5" y="25.5" width="58" height="17.5" rx="3.2" fill="#000" class="aa"/>
<rect x="210.9" y="27.2" width="53.8" height="13.4" rx="1.6" fill="#fff" class="aa"/>
<text transform="translate(238,38.9) scale(0.67,1)" font-size="14.5" letter-spacing="3.2" fill="#000" stroke="#000" stroke-width="0.2" text-anchor="middle" font-weight="normal">BANK 3</text>
<rect x="208.5" y="42.5" width="58" height="18" rx="3.2" fill="#000" class="aa"/>
<rect x="210.9" y="44.2" width="53.8" height="13.9" rx="1.6" fill="#fff" class="aa"/>
<text transform="translate(238,56.4) scale(0.67,1)" font-size="14.5" letter-spacing="3.2" fill="#000" stroke="#000" stroke-width="0.2" text-anchor="middle" font-weight="normal">BANK 2</text>
<rect x="101" y="96" width="58.5" height="18" rx="3.2" fill="#000" class="aa"/>
<rect x="103.4" y="97.7" width="54.3" height="13.9" rx="1.6" fill="#fff" class="aa"/>
<text transform="translate(130.75,109.9) scale(0.67,1)" font-size="14.5" letter-spacing="3.2" fill="#000" stroke="#000" stroke-width="0.2" text-anchor="middle" font-weight="normal">BANK 0</text>
<rect x="329" y="96" width="58" height="18" rx="3.2" fill="#000" class="aa"/>
<rect x="331.4" y="97.7" width="53.8" height="13.9" rx="1.6" fill="#fff" class="aa"/>
<text transform="translate(358.5,109.9) scale(0.67,1)" font-size="14.5" letter-spacing="3.2" fill="#000" stroke="#000" stroke-width="0.2" text-anchor="middle" font-weight="normal">BANK 1</text>
<rect x="44" y="263.5" width="30" height="14.7" rx="2" fill="#fff" class="aa"/>
<text transform="translate(60.2,274.9) scale(0.67,1)" font-size="14.5" letter-spacing="3.2" fill="#000" stroke="#000" stroke-width="0.2" text-anchor="middle" font-weight="normal">TAG</text>
<rect x="42" y="299.5" width="34" height="20.5" fill="#000" />
<rect x="44.5" y="302.5" width="29" height="14.5" rx="2" fill="#fff" class="aa"/>
<text transform="translate(60.2,313.7) scale(0.67,1)" font-size="14.5" letter-spacing="3.2" fill="#000" stroke="#000" stroke-width="0.2" text-anchor="middle" font-weight="normal">U64</text>
<path d="M225.77 232.30 L236.321 239.766 L229.73 228.70 Z" fill="#fff" stroke="#000" stroke-width="2.1" stroke-linejoin="miter" class="aa"/>
<rect x="189" y="215.5" width="42" height="18.5" rx="3.2" fill="#000" class="aa"/>
<rect x="191.4" y="217.2" width="37.8" height="14.4" rx="1.6" fill="#fff" class="aa"/>
<text transform="translate(210.5,229.9) scale(0.67,1)" font-size="14.5" letter-spacing="3.2" fill="#000" stroke="#000" stroke-width="0.2" text-anchor="middle" font-weight="normal">JP13</text>
<path d="M216.27 280.30 L207.731 268.682 L220.23 276.70 Z" fill="#fff" stroke="#000" stroke-width="2.1" stroke-linejoin="miter" class="aa"/>
<rect x="214" y="274" width="35" height="18.7" rx="3.2" fill="#000" class="aa"/>
<rect x="216.4" y="275.7" width="30.8" height="14.6" rx="1.6" fill="#fff" class="aa"/>
<text transform="translate(232,288.6) scale(0.67,1)" font-size="14.5" letter-spacing="3.2" fill="#000" stroke="#000" stroke-width="0.2" text-anchor="middle" font-weight="normal">JP6</text>
<path d="M67.50 330.41 L53 332.703 L67.50 335.09 Z" fill="#fff" stroke="#000" stroke-width="2.1" stroke-linejoin="miter" class="aa"/>
<rect x="66" y="323.3" width="42" height="18.4" rx="3.2" fill="#000" class="aa"/>
<rect x="68.4" y="325" width="37.8" height="14.3" rx="1.6" fill="#fff" class="aa"/>
<text transform="translate(87.5,337.6) scale(0.67,1)" font-size="14.5" letter-spacing="3.2" fill="#000" stroke="#000" stroke-width="0.2" text-anchor="middle" font-weight="normal">JP12</text>
<path d="M72.00 378.34 L89.0001 380.311 L72.00 382.66 Z" fill="#fff" stroke="#000" stroke-width="2.1" stroke-linejoin="miter" class="aa"/>
<rect x="38.5" y="371.3" width="35.5" height="18.2" rx="3.2" fill="#000" class="aa"/>
<rect x="40.9" y="373" width="31.3" height="14.1" rx="1.6" fill="#fff" class="aa"/>
<text transform="translate(56.75,385.4) scale(0.67,1)" font-size="14.5" letter-spacing="3.2" fill="#000" stroke="#000" stroke-width="0.2" text-anchor="middle" font-weight="normal">JP9</text>
<path d="M123.00 387.34 L106.5 389.594 L123.00 391.66 Z" fill="#fff" stroke="#000" stroke-width="2.1" stroke-linejoin="miter" class="aa"/>
<rect x="121.3" y="380" width="40.7" height="19" rx="3.2" fill="#000" class="aa"/>
<rect x="123.7" y="381.7" width="36.5" height="14.9" rx="1.6" fill="#fff" class="aa"/>
<text transform="translate(142.15,394.9) scale(0.67,1)" font-size="14.5" letter-spacing="3.2" fill="#000" stroke="#000" stroke-width="0.2" text-anchor="middle" font-weight="normal">JP10</text>
<path d="M225.34 403.00 L227.595 420.5 L229.66 403.00 Z" fill="#fff" stroke="#000" stroke-width="2.1" stroke-linejoin="miter" class="aa"/>
<rect x="211" y="387" width="34" height="19" rx="3.2" fill="#000" class="aa"/>
<rect x="213.4" y="388.7" width="29.8" height="14.9" rx="1.6" fill="#fff" class="aa"/>
<text transform="translate(228.5,401.9) scale(0.67,1)" font-size="14.5" letter-spacing="3.2" fill="#000" stroke="#000" stroke-width="0.2" text-anchor="middle" font-weight="normal">JP7</text>
<path d="M388.27 437.77 L380.175 450.762 L392.23 441.73 Z" fill="#fff" stroke="#000" stroke-width="2.1" stroke-linejoin="miter" class="aa"/>
<rect x="386" y="424.8" width="34.7" height="19.2" rx="3.2" fill="#000" class="aa"/>
<rect x="388.4" y="426.5" width="30.5" height="15.1" rx="1.6" fill="#fff" class="aa"/>
<text transform="translate(403.85,439.9) scale(0.67,1)" font-size="14.5" letter-spacing="3.2" fill="#000" stroke="#000" stroke-width="0.2" text-anchor="middle" font-weight="normal">JP3</text>
<path d="M400.50 487.84 L385 490 L400.50 492.16 Z" fill="#fff" stroke="#000" stroke-width="2.1" stroke-linejoin="miter" class="aa"/>
<rect x="398.8" y="481" width="36.5" height="18" rx="3.2" fill="#000" class="aa"/>
<rect x="401.2" y="482.7" width="32.3" height="13.9" rx="1.6" fill="#fff" class="aa"/>
<text transform="translate(417.55,494.9) scale(0.67,1)" font-size="14.5" letter-spacing="3.2" fill="#000" stroke="#000" stroke-width="0.2" text-anchor="middle" font-weight="normal">JP4</text>
<path d="M326.00 505.84 L341.5 507.718 L326.00 510.16 Z" fill="#fff" stroke="#000" stroke-width="2.1" stroke-linejoin="miter" class="aa"/>
<rect x="291" y="498.8" width="36.3" height="18.8" rx="3.2" fill="#000" class="aa"/>
<rect x="293.4" y="500.5" width="32.1" height="14.7" rx="1.6" fill="#fff" class="aa"/>
<text transform="translate(309.65,513.5) scale(0.67,1)" font-size="14.5" letter-spacing="3.2" fill="#000" stroke="#000" stroke-width="0.2" text-anchor="middle" font-weight="normal">JP5</text>
<path d="M544.70 426.70 L535.164 441.253 L548.30 430.30 Z" fill="#fff" stroke="#000" stroke-width="2.1" stroke-linejoin="miter" class="aa"/>
<rect x="543" y="415.5" width="39" height="16.5" fill="#000" />
<rect x="544" y="416.5" width="37" height="14.5" fill="#fff" />
<text transform="translate(563,428.7) scale(0.67,1)" font-size="14.5" letter-spacing="3.2" fill="#000" stroke="#000" stroke-width="0.2" text-anchor="middle" font-weight="normal">JP18</text>
<path d="M546.00 462.84 L531.5 465 L546.00 467.16 Z" fill="#fff" stroke="#000" stroke-width="2.1" stroke-linejoin="miter" class="aa"/>
<rect x="544.5" y="456.5" width="42.5" height="17" rx="3.2" fill="#000" class="aa"/>
<rect x="546.9" y="458.2" width="38.3" height="12.9" rx="1.6" fill="#fff" class="aa"/>
<text transform="translate(566.25,469.4) scale(0.67,1)" font-size="14.5" letter-spacing="3.2" fill="#000" stroke="#000" stroke-width="0.2" text-anchor="middle" font-weight="normal">JP17</text>
<path d="M517.98 497.50 L520.5 479.6 L523.02 497.50 Z" fill="#fff" stroke="#000" stroke-width="2.1" stroke-linejoin="miter" class="aa"/>
<rect x="500.5" y="496" width="42.5" height="19" rx="3.2" fill="#000" class="aa"/>
<rect x="502.9" y="497.7" width="38.3" height="14.9" rx="1.6" fill="#fff" class="aa"/>
<text transform="translate(522.25,510.9) scale(0.67,1)" font-size="14.5" letter-spacing="3.2" fill="#000" stroke="#000" stroke-width="0.2" text-anchor="middle" font-weight="normal">JP16</text>
<path d="M636.00 460.34 L621.5 462.594 L636.00 464.66 Z" fill="#fff" stroke="#000" stroke-width="2.1" stroke-linejoin="miter" class="aa"/>
<rect x="635" y="453" width="36.8" height="19" rx="3.2" fill="#000" class="aa"/>
<rect x="637.4" y="454.7" width="32.6" height="14.9" rx="1.6" fill="#fff" class="aa"/>
<text transform="translate(653.9,467.9) scale(0.67,1)" font-size="14.5" letter-spacing="3.2" fill="#000" stroke="#000" stroke-width="0.2" text-anchor="middle" font-weight="normal">JP2</text>
<path d="M757.41 325.00 L765.217 343.541 L762.09 325.00 Z" fill="#fff" stroke="#000" stroke-width="2.1" stroke-linejoin="miter" class="aa"/>
<rect x="739.8" y="308.2" width="42.9" height="18.5" rx="3.2" fill="#000" class="aa"/>
<rect x="742.2" y="309.9" width="38.7" height="14.4" rx="1.6" fill="#fff" class="aa"/>
<text transform="translate(761.75,322.6) scale(0.67,1)" font-size="14.5" letter-spacing="3.2" fill="#000" stroke="#000" stroke-width="0.2" text-anchor="middle" font-weight="normal">JP14</text>
<path d="M760.91 378.87 L775.235 387.355 L765.59 375.63 Z" fill="#fff" stroke="#000" stroke-width="2.1" stroke-linejoin="miter" class="aa"/>
<rect x="734.5" y="363.3" width="33.7" height="17.9" rx="3.2" fill="#000" class="aa"/>
<rect x="736.9" y="365" width="29.5" height="13.8" rx="1.6" fill="#fff" class="aa"/>
<text transform="translate(751.85,377.1) scale(0.67,1)" font-size="14.5" letter-spacing="3.2" fill="#000" stroke="#000" stroke-width="0.2" text-anchor="middle" font-weight="normal">J11</text>
<path d="M734.50 401.84 L751 404 L734.50 406.16 Z" fill="#fff" stroke="#000" stroke-width="2.1" stroke-linejoin="miter" class="aa"/>
<rect x="701.5" y="394.3" width="35.2" height="18.9" rx="3.2" fill="#000" class="aa"/>
<rect x="703.9" y="396" width="31" height="14.8" rx="1.6" fill="#fff" class="aa"/>
<text transform="translate(719.6,409.1) scale(0.67,1)" font-size="14.5" letter-spacing="3.2" fill="#000" stroke="#000" stroke-width="0.2" text-anchor="middle" font-weight="normal">J22</text>
<path d="M750.84 475.37 L763.347 485.743 L755.16 472.13 Z" fill="#fff" stroke="#000" stroke-width="2.1" stroke-linejoin="miter" class="aa"/>
<rect x="716.2" y="460.2" width="41.3" height="17.8" rx="3.2" fill="#000" class="aa"/>
<rect x="718.6" y="461.9" width="37.1" height="13.7" rx="1.6" fill="#fff" class="aa"/>
<text transform="translate(737.35,473.9) scale(0.67,1)" font-size="14.5" letter-spacing="3.2" fill="#000" stroke="#000" stroke-width="0.2" text-anchor="middle" font-weight="normal">JP15</text>
<text transform="translate(608.5,53) scale(0.68,1)" font-size="12.5" letter-spacing="3.5" fill="#000" stroke="#000" stroke-width="0.2" text-anchor="start" font-weight="normal">MH1245</text>
<text transform="translate(766.6,345.8) scale(0.95,1)" font-size="10.7" letter-spacing="0" fill="#000" stroke="#000" stroke-width="0.2" text-anchor="start" font-weight="normal">3</text>
</svg>
</body></html>
